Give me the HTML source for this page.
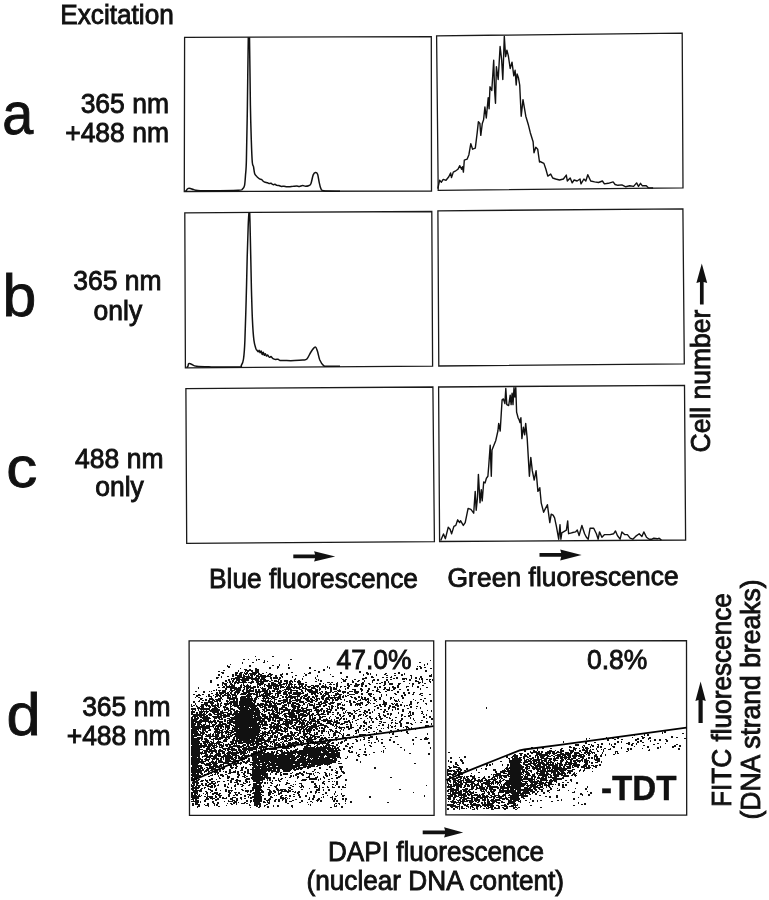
<!DOCTYPE html>
<html><head><meta charset="utf-8"><style>
html,body{margin:0;padding:0;background:#fff;width:769px;height:900px;overflow:hidden}
svg{position:absolute;left:0;top:0;display:block;will-change:transform}
text{font-family:'Liberation Sans',sans-serif;fill:#111;stroke:#111;stroke-width:0.85px}
</style></head><body>
<svg width="769" height="900" viewBox="0 0 769 900">
<rect width="769" height="900" fill="#fff"/>
<path d="M255 656.5h1m16 0h2m-31 3h2m3 0h1m9 0h2m30 0h2m138 1h1m-164 1h1m-16 1h2m9 0h2m154 0h2m-191 2h1m41 1h2m5 0h1m137 1h1m1 0h2m-92 1h1m94 0h2m-186 1h1m36 0h1m152 0h2m-188 1h2m-23 1h2m25 0h2m62 0h2m-98 1h2m1 1h1m20 0h1m11 0h1m-1 0h2m-1 0h2m-1 0h1m9 0h1m24 0h2m-54 1h1m-1 0h2m4 0h2m2 0h1m0 0h2m3 0h2m5 0h2m40 0h1m3 0h1m76 0h1m-1 0h2m7 0h2m-164 1h2m5 0h2m2 0h1m2 0h1m7 0h2m3 0h2m10 0h2m57 0h1m53 0h2m-149 1h2m1 0h2m14 0h2m12 0h2m23 0h2m89 0h2m6 0h2m14 0h2m-185 1h2m3 0h2m3 0h2m1 0h2m3 0h1m5 0h2m3 0h2m3 0h2m2 0h2m1 0h2m11 0h2m20 0h1m28 0h2m-117 1h2m17 0h2m8 0h2m1 0h1m0 0h2m3 0h2m6 0h2m-1 0h2m7 0h2m0 0h1m6 0h1m89 0h2m8 0h2m2 0h2m2 0h2m-160 1h1m0 0h2m-1 0h1m0 0h2m6 0h1m1 0h2m26 0h2m0 0h2m64 0h1m21 0h2m28 0h2m9 0h2m5 0h1m9 0h1m-183 1h2m-2 0h1m2 0h2m-1 0h2m-1 0h2m5 0h2m1 0h1m0 0h1m15 0h1m6 0h2m36 0h1m25 0h2m1 0h2m7 0h1m-1 0h2m34 0h2m11 0h2m21 0h2m1 0h2m-221 1h2m20 0h1m5 0h1m2 0h2m9 0h1m7 0h2m3 0h2m0 0h2m2 0h2m-1 0h1m1 0h2m4 0h2m4 0h2m70 0h2m-109 1h1m-1 0h2m6 0h2m1 0h2m-1 0h1m5 0h2m3 0h2m1 0h2m5 0h1m9 0h2m2 0h2m15 0h2m35 0h1m4 0h2m44 0h2m-1 0h1m11 0h2m-191 1h1m1 0h2m1 0h1m3 0h2m0 0h2m0 0h2m0 0h2m-1 0h2m0 0h2m1 0h2m10 0h1m-1 0h2m0 0h2m7 0h2m-1 0h2m4 0h2m-1 0h2m16 0h2m-1 0h2m5 0h2m-2 0h1m21 0h2m-1 0h2m1 0h2m4 0h1m3 0h1m20 0h2m17 0h2m36 0h2m-191 1h2m5 0h2m18 0h2m-2 0h1m4 0h2m10 0h2m2 0h2m4 0h2m-1 0h2m-1 0h2m1 0h2m-1 0h2m11 0h1m19 0h1m6 0h1m16 0h2m13 0h1m5 0h2m6 0h1m-1 0h2m-1 0h1m1 0h2m19 0h1m8 0h1m8 0h2m4 0h2m-209 1h2m3 0h1m7 0h1m10 0h1m16 0h1m5 0h2m6 0h2m7 0h2m5 0h2m1 0h2m1 0h2m10 0h1m22 0h2m-1 0h2m1 0h2m15 0h2m6 0h2m2 0h2m5 0h2m-142 1h1m3 0h2m31 0h2m1 0h2m1 0h2m1 0h2m1 0h2m-1 0h2m-1 0h1m10 0h1m7 0h1m1 0h1m9 0h2m-1 0h2m-1 0h1m22 0h1m46 0h2m12 0h2m23 0h2m-201 1h2m3 0h2m0 0h2m13 0h2m10 0h2m9 0h1m8 0h1m5 0h1m1 0h1m1 0h2m-1 0h2m2 0h1m11 0h1m2 0h2m-1 0h2m0 0h1m2 0h1m3 0h1m11 0h2m9 0h1m-1 0h2m2 0h2m61 0h2m-191 1h2m2 0h2m-2 0h1m1 0h1m2 0h2m0 0h2m1 0h2m1 0h2m3 0h2m1 0h2m4 0h1m1 0h2m4 0h2m1 0h1m1 0h1m10 0h1m6 0h2m1 0h2m5 0h2m0 0h2m-1 0h2m1 0h2m0 0h1m3 0h2m13 0h1m9 0h1m12 0h1m33 0h2m41 0h2m7 0h2m-197 1h2m2 0h2m0 0h1m-1 0h2m0 0h2m10 0h1m0 0h2m7 0h2m10 0h2m-1 0h2m-1 0h2m1 0h1m1 0h1m5 0h2m5 0h2m1 0h1m6 0h2m8 0h1m0 0h2m11 0h2m-1 0h1m1 0h2m1 0h2m-101 1h1m0 0h2m0 0h2m-1 0h1m4 0h1m0 0h1m4 0h1m0 0h1m7 0h2m2 0h1m1 0h2m1 0h2m8 0h2m-2 0h1m6 0h1m1 0h2m12 0h2m4 0h2m-2 0h1m2 0h2m4 0h1m18 0h1m0 0h1m16 0h2m6 0h1m16 0h2m4 0h2m1 0h1m12 0h2m-188 1h2m3 0h2m-1 0h2m1 0h1m10 0h2m1 0h2m4 0h1m5 0h2m0 0h2m-1 0h1m1 0h1m8 0h2m0 0h1m0 0h2m2 0h1m2 0h2m3 0h1m1 0h2m1 0h2m7 0h2m-1 0h2m-2 0h1m1 0h2m16 0h1m6 0h1m17 0h2m-1 0h1m33 0h2m17 0h2m-198 1h2m12 0h1m1 0h1m10 0h1m6 0h1m21 0h1m0 0h2m5 0h2m0 0h2m0 0h2m-1 0h2m0 0h1m5 0h2m-1 0h2m-2 0h1m2 0h2m-1 0h2m1 0h1m0 0h1m2 0h2m0 0h2m8 0h2m-1 0h1m3 0h2m9 0h2m0 0h2m0 0h2m3 0h2m11 0h2m-1 0h1m0 0h1m1 0h2m9 0h2m0 0h2m14 0h1m10 0h2m5 0h2m-167 1h2m2 0h2m1 0h2m8 0h2m0 0h1m3 0h2m-1 0h2m1 0h2m10 0h2m17 0h1m5 0h2m2 0h2m3 0h2m-1 0h2m0 0h2m11 0h1m5 0h2m2 0h2m1 0h1m6 0h2m1 0h2m32 0h2m11 0h2m32 0h2m-204 1h2m3 0h2m2 0h2m3 0h2m7 0h2m5 0h2m2 0h1m6 0h1m4 0h1m13 0h2m2 0h2m-1 0h1m0 0h2m9 0h2m10 0h2m-2 0h1m10 0h1m0 0h2m3 0h2m5 0h2m10 0h1m6 0h1m12 0h1m0 0h1m36 0h2m7 0h2m15 0h2m-1 0h2m-230 1h2m7 0h2m11 0h2m3 0h2m2 0h2m1 0h2m2 0h2m4 0h1m2 0h2m12 0h2m-2 0h1m6 0h2m6 0h2m6 0h2m10 0h1m2 0h2m3 0h2m6 0h2m0 0h1m6 0h2m22 0h2m0 0h2m7 0h2m0 0h2m0 0h2m18 0h1m21 0h2m15 0h2m5 0h2m8 0h2m-232 1h2m12 0h1m2 0h2m-1 0h1m5 0h2m0 0h2m-1 0h1m2 0h2m1 0h2m22 0h2m-1 0h1m1 0h2m-1 0h2m0 0h2m1 0h1m3 0h1m5 0h1m1 0h1m2 0h2m4 0h1m2 0h2m7 0h2m3 0h2m-1 0h2m10 0h1m7 0h2m5 0h1m1 0h2m-1 0h1m8 0h1m3 0h2m72 0h2m-217 1h1m1 0h2m0 0h2m3 0h2m-1 0h2m23 0h2m3 0h2m2 0h2m6 0h2m9 0h2m6 0h2m3 0h2m1 0h2m1 0h2m2 0h2m0 0h1m0 0h1m0 0h2m0 0h2m1 0h2m1 0h2m10 0h2m-1 0h1m4 0h2m14 0h1m6 0h2m3 0h2m9 0h1m8 0h2m9 0h1m-187 1h1m2 0h2m11 0h1m9 0h1m6 0h2m-1 0h2m1 0h1m22 0h2m-2 0h1m12 0h1m4 0h2m-1 0h2m0 0h2m4 0h2m1 0h2m1 0h1m14 0h2m2 0h1m15 0h1m4 0h2m3 0h2m1 0h2m0 0h1m12 0h2m11 0h2m7 0h2m4 0h2m12 0h1m-193 1h2m6 0h2m9 0h2m7 0h2m10 0h2m0 0h2m4 0h1m5 0h1m2 0h1m3 0h1m1 0h2m2 0h2m0 0h1m1 0h1m6 0h2m-1 0h1m10 0h2m24 0h2m2 0h1m0 0h2m1 0h2m-1 0h2m96 0h2m-216 1h2m0 0h2m1 0h2m-1 0h2m-1 0h2m3 0h1m8 0h2m-2 0h1m13 0h1m0 0h2m1 0h2m1 0h1m1 0h1m0 0h2m14 0h1m2 0h2m-1 0h2m18 0h2m0 0h1m0 0h1m0 0h2m6 0h2m3 0h1m2 0h2m5 0h2m17 0h1m20 0h2m2 0h2m8 0h1m36 0h1m6 0h2m-220 1h2m1 0h2m5 0h2m2 0h2m22 0h1m2 0h2m0 0h2m-1 0h2m1 0h2m-1 0h1m-1 0h2m2 0h1m6 0h2m-1 0h2m16 0h2m-1 0h2m9 0h2m-1 0h2m0 0h2m2 0h2m5 0h2m4 0h2m-1 0h2m21 0h2m11 0h2m7 0h2m10 0h1m44 0h1m-218 1h2m10 0h2m0 0h1m1 0h2m-1 0h2m2 0h2m5 0h1m1 0h1m1 0h2m-2 0h1m1 0h1m3 0h1m2 0h2m1 0h1m-1 0h2m0 0h1m-1 0h2m-1 0h2m-1 0h1m0 0h1m-1 0h2m1 0h2m2 0h2m7 0h1m0 0h2m0 0h2m0 0h2m1 0h2m12 0h1m-1 0h2m2 0h1m1 0h1m7 0h2m6 0h2m6 0h2m7 0h2m0 0h2m-1 0h1m18 0h2m9 0h1m18 0h1m19 0h2m1 0h1m-199 1h2m-2 0h1m2 0h2m0 0h2m0 0h2m0 0h2m17 0h2m0 0h2m6 0h1m0 0h2m0 0h1m0 0h2m-1 0h2m-2 0h1m1 0h1m0 0h2m-1 0h2m-1 0h1m-1 0h2m14 0h2m-1 0h2m-1 0h2m0 0h2m1 0h1m3 0h1m5 0h2m-1 0h2m0 0h1m6 0h1m1 0h1m6 0h2m-1 0h1m2 0h1m0 0h1m11 0h1m-1 0h2m4 0h2m-1 0h2m-1 0h2m2 0h2m1 0h2m6 0h1m8 0h1m3 0h2m12 0h2m32 0h1m14 0h2m-214 1h2m10 0h2m1 0h2m4 0h2m-1 0h2m-2 0h1m14 0h1m0 0h2m0 0h1m4 0h1m1 0h2m15 0h2m-1 0h2m1 0h2m12 0h2m7 0h2m-1 0h2m4 0h2m3 0h2m11 0h2m-1 0h2m4 0h2m-1 0h2m-1 0h2m8 0h1m29 0h1m2 0h2m16 0h2m1 0h1m22 0h1m7 0h2m-225 1h2m-1 0h2m-1 0h2m12 0h1m7 0h2m-1 0h2m7 0h2m3 0h2m-1 0h2m-1 0h1m0 0h1m-1 0h2m0 0h2m-2 0h1m0 0h2m0 0h1m0 0h1m-1 0h2m0 0h2m3 0h2m0 0h2m0 0h2m1 0h2m4 0h2m13 0h2m1 0h1m14 0h2m11 0h2m2 0h2m8 0h1m9 0h1m25 0h2m14 0h2m1 0h2m5 0h2m-201 1h2m7 0h2m1 0h2m1 0h2m1 0h2m0 0h1m1 0h2m4 0h1m10 0h2m4 0h2m-1 0h1m0 0h2m-1 0h2m-1 0h2m-1 0h2m-2 0h1m2 0h1m0 0h2m0 0h2m-1 0h2m0 0h2m4 0h2m6 0h2m2 0h1m2 0h1m-1 0h2m0 0h2m7 0h2m7 0h2m-1 0h2m3 0h2m1 0h1m16 0h1m0 0h1m3 0h2m11 0h2m4 0h2m-1 0h1m12 0h1m7 0h2m9 0h2m28 0h2m-1 0h1m-217 1h2m3 0h2m2 0h1m2 0h1m2 0h1m5 0h2m16 0h1m0 0h1m8 0h2m-1 0h2m5 0h2m-1 0h1m0 0h2m0 0h2m-1 0h1m0 0h2m-1 0h2m5 0h2m4 0h2m0 0h2m1 0h2m7 0h2m9 0h2m-1 0h2m0 0h2m9 0h1m8 0h2m0 0h2m8 0h2m2 0h2m1 0h1m1 0h1m36 0h2m4 0h2m28 0h2m4 0h2m-217 1h1m0 0h2m5 0h2m7 0h2m6 0h2m11 0h2m-1 0h2m-1 0h2m0 0h2m-1 0h1m-1 0h2m-1 0h1m-1 0h2m0 0h2m2 0h1m1 0h2m-2 0h1m0 0h2m4 0h2m-2 0h1m1 0h1m5 0h2m-1 0h2m1 0h1m0 0h1m-1 0h2m0 0h2m-1 0h2m15 0h2m-1 0h2m2 0h2m6 0h2m6 0h1m3 0h1m41 0h2m48 0h2m-218 1h2m-2 0h1m5 0h1m2 0h2m-1 0h2m-1 0h2m0 0h1m0 0h2m17 0h1m-1 0h2m9 0h2m-1 0h2m0 0h1m1 0h2m-1 0h2m-2 0h1m1 0h2m-1 0h2m-1 0h2m2 0h2m0 0h1m0 0h2m0 0h1m21 0h2m-1 0h2m5 0h1m5 0h2m6 0h2m-1 0h2m0 0h2m-1 0h2m14 0h2m3 0h1m10 0h2m2 0h2m1 0h1m62 0h2m7 0h1m-226 1h1m1 0h2m-2 0h1m4 0h1m1 0h2m1 0h2m-1 0h2m22 0h1m1 0h2m7 0h2m-1 0h2m-1 0h1m0 0h2m-1 0h2m0 0h1m0 0h1m2 0h2m-1 0h2m-1 0h2m-1 0h1m0 0h2m-1 0h1m0 0h2m-1 0h1m5 0h2m0 0h1m11 0h1m-1 0h2m2 0h2m7 0h2m1 0h2m16 0h2m5 0h2m2 0h2m5 0h2m28 0h2m-1 0h1m20 0h2m15 0h2m3 0h2m-201 1h1m12 0h2m0 0h1m3 0h1m5 0h2m-1 0h2m3 0h1m6 0h2m-1 0h1m0 0h2m-1 0h2m0 0h2m0 0h2m-1 0h2m-1 0h1m-1 0h2m-1 0h2m-1 0h1m0 0h1m3 0h1m0 0h1m-1 0h2m7 0h1m1 0h2m0 0h2m2 0h2m9 0h2m0 0h2m1 0h2m2 0h2m-2 0h1m2 0h2m0 0h2m-1 0h2m1 0h2m0 0h2m6 0h2m-1 0h1m30 0h1m6 0h2m1 0h2m69 0h1m-225 1h2m-1 0h2m-1 0h2m0 0h2m2 0h2m-1 0h2m0 0h2m-1 0h1m12 0h1m9 0h2m0 0h2m0 0h2m0 0h2m1 0h2m0 0h1m2 0h1m3 0h2m-2 0h1m1 0h2m2 0h1m1 0h2m0 0h1m5 0h2m-1 0h2m1 0h2m5 0h2m6 0h2m8 0h1m-1 0h2m3 0h1m3 0h2m5 0h2m35 0h2m3 0h2m25 0h2m33 0h2m-232 1h2m6 0h2m5 0h2m-1 0h1m4 0h2m0 0h2m1 0h2m2 0h2m-1 0h2m-1 0h2m-1 0h1m0 0h2m-1 0h2m11 0h2m2 0h2m0 0h1m0 0h2m-2 0h1m1 0h1m1 0h1m1 0h2m-1 0h2m-1 0h2m0 0h1m1 0h2m-1 0h2m-2 0h1m15 0h2m0 0h2m14 0h1m2 0h1m6 0h2m3 0h1m14 0h2m4 0h1m2 0h2m13 0h2m0 0h1m13 0h2m-174 1h1m7 0h1m3 0h1m2 0h1m11 0h2m0 0h2m-1 0h2m-1 0h1m-1 0h2m5 0h2m-1 0h2m1 0h2m-1 0h2m2 0h2m-1 0h2m-1 0h2m0 0h2m0 0h2m-1 0h1m-1 0h2m-1 0h1m-1 0h2m-1 0h2m0 0h2m-1 0h2m-1 0h2m1 0h2m-1 0h2m0 0h2m10 0h1m9 0h2m-2 0h1m0 0h2m4 0h2m9 0h2m7 0h2m4 0h2m3 0h2m24 0h2m10 0h2m7 0h1m13 0h2m28 0h1m12 0h2m-231 1h2m0 0h1m4 0h2m0 0h2m-1 0h2m0 0h2m2 0h2m-1 0h2m3 0h2m-1 0h2m1 0h2m-1 0h2m8 0h1m0 0h1m2 0h2m2 0h2m-1 0h2m-1 0h2m2 0h2m-1 0h2m0 0h2m0 0h2m1 0h1m-1 0h2m-1 0h2m-1 0h2m-1 0h1m-1 0h2m7 0h2m4 0h2m1 0h2m9 0h2m5 0h2m6 0h2m-1 0h2m3 0h2m6 0h2m2 0h1m0 0h2m-1 0h2m-1 0h2m3 0h2m6 0h2m27 0h1m61 0h1m-230 1h2m2 0h2m-1 0h1m17 0h2m2 0h2m-1 0h2m12 0h2m-1 0h2m-1 0h2m-1 0h2m-1 0h2m-1 0h2m0 0h2m-1 0h2m-1 0h2m-1 0h1m-1 0h2m1 0h2m-1 0h2m-1 0h2m2 0h1m-1 0h2m-1 0h1m-1 0h2m-1 0h2m4 0h1m5 0h1m6 0h1m0 0h1m4 0h1m2 0h2m3 0h1m0 0h2m2 0h2m-1 0h1m1 0h2m-1 0h2m-1 0h1m2 0h2m1 0h2m-1 0h1m2 0h2m2 0h2m2 0h1m20 0h2m2 0h2m8 0h2m11 0h2m10 0h2m30 0h2m-220 1h2m0 0h2m-1 0h2m-1 0h2m1 0h2m2 0h2m-1 0h2m-1 0h2m5 0h2m-1 0h1m0 0h2m11 0h2m13 0h2m-1 0h2m-1 0h2m0 0h2m-2 0h1m0 0h1m0 0h2m-2 0h1m4 0h2m-1 0h1m-1 0h2m-1 0h1m2 0h1m7 0h2m2 0h2m1 0h2m-1 0h2m11 0h2m-1 0h1m14 0h2m1 0h1m2 0h2m11 0h2m-1 0h1m0 0h2m4 0h1m4 0h1m4 0h1m1 0h2m21 0h2m37 0h2m-215 1h2m-1 0h1m2 0h1m1 0h1m32 0h2m-1 0h1m0 0h2m0 0h1m2 0h2m-2 0h1m2 0h2m-1 0h1m2 0h1m0 0h2m-2 0h1m4 0h2m-1 0h2m2 0h2m-2 0h1m0 0h2m0 0h1m-1 0h2m-1 0h2m-1 0h2m8 0h2m-1 0h2m1 0h1m1 0h2m42 0h2m19 0h1m44 0h2m1 0h1m5 0h2m-203 1h2m0 0h2m-2 0h1m6 0h2m-2 0h1m2 0h2m1 0h2m3 0h2m2 0h2m7 0h2m-1 0h2m2 0h2m1 0h2m-1 0h2m0 0h2m-1 0h2m-2 0h1m0 0h1m-1 0h2m-1 0h1m2 0h2m0 0h2m-2 0h1m0 0h2m-1 0h1m0 0h2m-1 0h1m2 0h1m-1 0h2m0 0h2m2 0h2m-1 0h2m-1 0h1m0 0h2m0 0h2m12 0h1m-1 0h2m1 0h2m-1 0h2m11 0h2m-1 0h1m0 0h1m2 0h1m3 0h2m6 0h2m26 0h2m18 0h2m5 0h1m2 0h2m-1 0h2m2 0h2m5 0h1m6 0h2m35 0h1m-232 1h1m-1 0h2m-1 0h2m2 0h2m5 0h2m10 0h2m0 0h2m1 0h2m3 0h2m1 0h1m0 0h1m0 0h2m3 0h1m-1 0h2m-1 0h1m1 0h1m0 0h1m0 0h2m0 0h2m-1 0h2m1 0h2m-1 0h2m-1 0h2m0 0h2m-1 0h2m-1 0h1m-1 0h2m-1 0h2m-1 0h2m-2 0h1m0 0h2m2 0h2m15 0h2m-1 0h2m1 0h2m0 0h1m-1 0h2m-1 0h2m0 0h1m10 0h2m8 0h2m0 0h2m-2 0h1m5 0h2m3 0h1m7 0h1m20 0h1m4 0h2m17 0h2m53 0h2m-240 1h1m-1 0h2m-1 0h1m0 0h1m4 0h1m1 0h1m1 0h1m3 0h1m4 0h1m1 0h1m1 0h1m-1 0h2m8 0h2m-1 0h2m-1 0h2m0 0h2m3 0h2m2 0h2m-1 0h2m0 0h1m-1 0h2m0 0h2m-2 0h1m2 0h2m-1 0h1m1 0h2m-1 0h1m0 0h1m-1 0h2m0 0h1m0 0h2m0 0h2m-1 0h2m11 0h2m5 0h2m-1 0h2m4 0h1m2 0h2m0 0h2m3 0h2m0 0h2m1 0h2m-1 0h2m1 0h2m5 0h2m7 0h2m3 0h1m28 0h2m34 0h2m2 0h1m4 0h2m12 0h1m6 0h2m-230 1h2m8 0h1m0 0h2m1 0h2m2 0h1m0 0h2m-2 0h1m5 0h2m10 0h2m2 0h2m1 0h2m-1 0h2m-1 0h1m0 0h2m0 0h2m1 0h1m-1 0h2m-1 0h2m-1 0h1m1 0h2m-1 0h2m-1 0h1m0 0h2m-1 0h1m0 0h2m-1 0h2m4 0h1m3 0h2m12 0h1m3 0h2m2 0h2m8 0h2m-1 0h1m0 0h2m4 0h1m4 0h1m3 0h2m0 0h2m0 0h2m3 0h2m-1 0h2m5 0h2m3 0h1m35 0h2m5 0h2m-186 1h2m2 0h1m10 0h2m-1 0h2m15 0h2m1 0h2m-1 0h2m2 0h2m-1 0h2m-1 0h1m1 0h2m-1 0h1m0 0h1m-1 0h2m-1 0h1m-1 0h2m-1 0h2m1 0h2m-1 0h2m-1 0h2m0 0h2m-1 0h1m0 0h1m-1 0h2m0 0h2m3 0h1m10 0h1m0 0h2m20 0h2m4 0h2m5 0h2m2 0h1m6 0h1m14 0h2m-1 0h2m13 0h2m32 0h2m0 0h1m5 0h2m22 0h1m4 0h2m-231 1h2m-1 0h1m-1 0h2m-1 0h1m0 0h2m-1 0h1m4 0h1m4 0h1m5 0h1m3 0h2m2 0h2m3 0h1m2 0h1m0 0h2m-1 0h2m3 0h1m0 0h2m1 0h2m0 0h1m-1 0h2m-1 0h2m0 0h2m0 0h2m2 0h2m-1 0h2m-1 0h2m-1 0h2m-1 0h1m1 0h2m-1 0h2m0 0h2m5 0h2m4 0h2m-1 0h2m14 0h2m0 0h2m7 0h2m-1 0h1m1 0h1m12 0h1m4 0h2m4 0h2m8 0h2m3 0h2m0 0h2m5 0h1m5 0h1m22 0h2m10 0h1m4 0h2m12 0h2m-221 1h1m1 0h2m-1 0h2m4 0h2m2 0h2m-1 0h1m8 0h2m2 0h1m1 0h2m-1 0h2m1 0h2m3 0h2m-1 0h2m3 0h1m4 0h1m3 0h1m2 0h2m-1 0h2m1 0h1m1 0h1m0 0h2m1 0h2m-1 0h2m1 0h2m0 0h1m1 0h2m2 0h2m6 0h2m-1 0h1m1 0h2m3 0h2m-1 0h1m11 0h2m2 0h2m-1 0h2m2 0h2m1 0h1m2 0h1m26 0h2m-1 0h2m3 0h2m18 0h1m21 0h1m22 0h2m-222 1h2m4 0h2m-1 0h1m2 0h2m5 0h2m2 0h1m3 0h2m-1 0h2m0 0h1m2 0h1m3 0h2m0 0h2m-1 0h1m1 0h2m4 0h2m-2 0h1m0 0h2m0 0h1m0 0h2m-1 0h1m0 0h2m-1 0h1m0 0h2m5 0h2m-2 0h1m1 0h2m-1 0h1m0 0h1m0 0h2m3 0h2m15 0h2m4 0h2m5 0h2m-1 0h2m0 0h1m8 0h1m0 0h2m4 0h1m6 0h2m3 0h2m1 0h1m30 0h1m12 0h2m6 0h2m10 0h1m4 0h1m31 0h2m-238 1h2m-1 0h2m0 0h2m-1 0h2m-1 0h1m2 0h2m0 0h2m-1 0h2m-1 0h1m1 0h2m2 0h2m-1 0h2m3 0h1m5 0h2m11 0h2m0 0h2m1 0h2m-1 0h2m0 0h1m1 0h2m-1 0h2m0 0h2m-2 0h1m1 0h2m-2 0h1m0 0h1m-1 0h2m1 0h1m-1 0h2m0 0h2m-2 0h1m0 0h2m-1 0h1m-1 0h2m10 0h2m0 0h1m0 0h1m13 0h2m3 0h2m0 0h1m4 0h2m-1 0h2m-1 0h1m3 0h2m1 0h2m4 0h2m0 0h2m0 0h2m7 0h2m6 0h1m1 0h2m9 0h2m19 0h2m24 0h2m9 0h2m0 0h1m-217 1h2m0 0h2m-1 0h1m3 0h2m0 0h2m1 0h2m15 0h2m5 0h1m4 0h1m5 0h2m-1 0h1m0 0h1m0 0h2m-2 0h1m0 0h1m1 0h2m-1 0h2m-1 0h1m0 0h2m-2 0h1m4 0h2m-1 0h1m-1 0h2m-1 0h2m-1 0h2m0 0h2m-2 0h1m1 0h2m3 0h2m15 0h2m1 0h1m5 0h1m2 0h2m5 0h2m-1 0h2m-1 0h1m3 0h2m4 0h2m10 0h2m1 0h2m7 0h1m1 0h2m1 0h2m-1 0h2m3 0h2m3 0h2m15 0h1m6 0h1m10 0h1m15 0h1m3 0h2m10 0h2m1 0h2m-219 1h1m2 0h2m6 0h2m3 0h1m10 0h2m1 0h2m2 0h2m-1 0h2m-2 0h1m1 0h1m1 0h2m-1 0h1m-1 0h2m-1 0h1m-1 0h2m-1 0h2m-1 0h2m-1 0h1m-1 0h2m-1 0h2m-1 0h1m-1 0h2m-1 0h2m-1 0h1m-1 0h2m-1 0h1m0 0h1m2 0h2m1 0h2m1 0h2m-1 0h2m-1 0h2m3 0h1m5 0h2m-1 0h1m4 0h1m2 0h2m2 0h2m2 0h2m0 0h2m3 0h1m0 0h2m4 0h1m1 0h2m3 0h2m-1 0h2m17 0h2m26 0h1m2 0h1m3 0h2m9 0h1m1 0h1m11 0h1m12 0h2m-215 1h2m0 0h2m4 0h2m4 0h2m3 0h2m1 0h2m3 0h2m4 0h1m3 0h2m-1 0h1m1 0h2m2 0h1m0 0h1m0 0h2m-1 0h1m-1 0h2m-1 0h1m0 0h2m-2 0h1m0 0h1m0 0h2m-2 0h1m2 0h2m0 0h2m0 0h2m-2 0h1m0 0h2m-1 0h2m-2 0h1m0 0h2m0 0h2m4 0h2m12 0h2m-1 0h2m18 0h1m0 0h2m4 0h2m2 0h2m4 0h1m-1 0h2m11 0h2m34 0h2m1 0h1m8 0h1m19 0h2m16 0h1m-221 1h2m11 0h2m6 0h2m1 0h2m8 0h2m0 0h2m1 0h2m2 0h2m-1 0h2m-1 0h1m1 0h2m-1 0h1m0 0h2m0 0h2m-1 0h2m-1 0h1m0 0h1m2 0h1m0 0h2m0 0h2m-1 0h1m0 0h1m0 0h2m-1 0h2m9 0h2m0 0h1m3 0h2m19 0h2m-1 0h2m3 0h2m2 0h1m3 0h1m6 0h2m3 0h2m7 0h1m3 0h1m26 0h2m1 0h1m23 0h2m10 0h1m1 0h1m-212 1h2m-1 0h1m1 0h2m1 0h1m0 0h1m1 0h1m3 0h2m8 0h2m0 0h2m1 0h2m1 0h1m0 0h2m0 0h2m4 0h2m5 0h2m-1 0h2m-1 0h2m0 0h1m-1 0h2m0 0h1m0 0h2m1 0h1m-1 0h2m0 0h2m-2 0h1m1 0h2m0 0h2m4 0h1m1 0h2m5 0h2m10 0h2m-1 0h1m-1 0h2m0 0h2m11 0h2m1 0h2m2 0h2m-1 0h2m17 0h1m1 0h1m1 0h1m1 0h2m39 0h2m5 0h2m-191 1h2m-1 0h2m0 0h2m4 0h1m1 0h2m2 0h2m9 0h2m-1 0h2m0 0h1m0 0h2m-1 0h2m3 0h2m0 0h2m0 0h1m4 0h2m-1 0h2m-1 0h2m-1 0h2m-2 0h1m4 0h2m-1 0h2m1 0h2m-1 0h1m0 0h1m1 0h2m-1 0h2m1 0h1m-1 0h2m-1 0h1m-1 0h2m6 0h2m-1 0h2m3 0h2m-1 0h1m-1 0h2m-1 0h2m20 0h2m0 0h1m18 0h2m20 0h2m28 0h2m-179 1h2m1 0h2m-1 0h2m-1 0h1m-1 0h2m2 0h2m11 0h1m3 0h1m3 0h1m6 0h1m7 0h2m-1 0h2m-1 0h2m2 0h2m1 0h2m1 0h1m-1 0h2m-1 0h1m7 0h2m-2 0h1m2 0h2m-1 0h1m5 0h2m1 0h1m3 0h2m2 0h2m1 0h1m8 0h2m2 0h2m7 0h1m-1 0h2m1 0h2m-1 0h2m-1 0h2m12 0h1m16 0h2m14 0h2m21 0h2m27 0h2m273 0h2m-490 1h2m-1 0h2m-1 0h2m-1 0h1m1 0h1m2 0h2m1 0h1m-1 0h2m1 0h2m8 0h1m8 0h1m0 0h1m0 0h2m1 0h1m0 0h2m0 0h2m1 0h2m0 0h1m0 0h1m0 0h1m0 0h2m-1 0h1m1 0h2m-1 0h2m-1 0h2m-1 0h2m-1 0h2m-1 0h1m-1 0h2m-1 0h2m0 0h2m0 0h1m1 0h2m2 0h2m0 0h1m1 0h2m35 0h2m4 0h2m3 0h2m19 0h1m5 0h1m17 0h2m0 0h2m-1 0h1m2 0h1m4 0h1m-180 1h2m-1 0h1m0 0h1m-1 0h2m0 0h2m-1 0h2m-1 0h2m0 0h2m5 0h2m0 0h2m-2 0h1m14 0h2m1 0h1m1 0h1m2 0h2m4 0h2m5 0h1m0 0h1m0 0h1m1 0h2m0 0h2m-1 0h1m0 0h2m-1 0h2m-1 0h2m-1 0h1m2 0h1m1 0h2m5 0h2m1 0h2m2 0h2m4 0h2m2 0h1m-1 0h2m0 0h2m1 0h2m29 0h2m1 0h1m9 0h2m-1 0h2m10 0h2m5 0h1m280 0h1m-444 1h1m2 0h2m5 0h2m2 0h2m0 0h2m1 0h2m2 0h2m6 0h2m2 0h2m6 0h2m1 0h2m-1 0h2m-1 0h2m-1 0h2m-1 0h2m0 0h1m0 0h2m0 0h1m0 0h2m0 0h2m-1 0h1m-1 0h2m0 0h2m-2 0h1m0 0h2m-2 0h1m0 0h2m-1 0h1m4 0h2m2 0h2m10 0h2m-1 0h1m4 0h2m1 0h1m3 0h2m0 0h1m1 0h1m1 0h2m3 0h2m4 0h2m8 0h2m0 0h1m14 0h1m61 0h1m0 0h2m243 0h2m-452 1h2m-2 0h1m0 0h2m29 0h2m2 0h2m12 0h2m-1 0h2m-2 0h1m1 0h1m0 0h2m-1 0h1m-1 0h2m1 0h2m0 0h2m-1 0h2m0 0h1m2 0h1m1 0h1m10 0h2m-1 0h2m-2 0h1m9 0h2m1 0h2m-1 0h2m4 0h2m13 0h2m3 0h2m2 0h1m1 0h1m3 0h2m5 0h2m1 0h2m3 0h2m7 0h1m10 0h2m5 0h2m25 0h2m23 0h2m215 0h1m10 0h2m31 0h2m-487 1h2m0 0h2m-1 0h1m0 0h2m-1 0h2m0 0h2m2 0h1m10 0h2m14 0h1m9 0h2m-1 0h2m-1 0h2m-1 0h2m-2 0h1m0 0h1m-1 0h2m-1 0h2m-1 0h2m-1 0h2m-1 0h2m-1 0h1m-1 0h2m0 0h2m-1 0h2m0 0h2m-1 0h1m3 0h1m0 0h2m17 0h2m2 0h1m4 0h2m2 0h1m2 0h2m0 0h2m17 0h2m3 0h2m4 0h1m9 0h1m8 0h1m18 0h1m63 0h1m160 0h1m17 0h2m75 0h2m-495 1h2m-1 0h2m-1 0h2m-1 0h2m-1 0h1m1 0h2m0 0h1m2 0h1m3 0h2m3 0h2m-1 0h2m10 0h2m1 0h1m8 0h2m4 0h2m-1 0h1m0 0h2m-1 0h2m1 0h1m-1 0h2m9 0h1m7 0h2m4 0h2m-1 0h1m5 0h2m0 0h2m2 0h1m8 0h2m-1 0h2m6 0h1m0 0h2m5 0h2m0 0h2m4 0h2m-1 0h1m4 0h2m1 0h1m25 0h2m6 0h2m16 0h2m37 0h2m4 0h2m174 0h2m10 0h2m5 0h2m42 0h2m-475 1h1m-1 0h2m0 0h1m-1 0h2m-1 0h2m0 0h2m6 0h2m16 0h1m0 0h1m8 0h2m1 0h1m0 0h2m-1 0h2m0 0h2m-1 0h1m0 0h1m1 0h2m1 0h1m0 0h2m-1 0h2m-1 0h2m-2 0h1m1 0h1m0 0h2m2 0h1m1 0h2m-1 0h2m5 0h1m0 0h2m3 0h2m0 0h1m-1 0h2m1 0h2m6 0h1m1 0h2m8 0h2m2 0h2m16 0h2m14 0h1m31 0h2m-1 0h1m42 0h2m-223 1h1m2 0h2m-1 0h1m3 0h1m2 0h2m-1 0h2m-1 0h2m4 0h2m1 0h1m9 0h2m0 0h2m5 0h2m-1 0h1m1 0h1m1 0h1m0 0h2m-1 0h1m-1 0h2m0 0h1m1 0h1m0 0h2m3 0h2m0 0h2m-2 0h1m2 0h2m0 0h2m6 0h2m6 0h2m-1 0h1m8 0h1m3 0h2m15 0h1m3 0h2m1 0h2m17 0h2m-139 1h2m2 0h1m-1 0h2m6 0h2m-1 0h2m-1 0h2m-1 0h2m0 0h1m6 0h2m-1 0h2m0 0h1m1 0h2m8 0h1m3 0h1m3 0h2m-1 0h2m-2 0h1m0 0h1m0 0h2m-1 0h2m0 0h2m-1 0h2m2 0h2m3 0h2m-1 0h1m1 0h1m3 0h2m-1 0h1m-1 0h2m0 0h1m7 0h2m1 0h2m-1 0h1m2 0h2m11 0h2m1 0h2m3 0h2m0 0h1m4 0h1m2 0h2m2 0h2m6 0h1m8 0h2m34 0h2m4 0h2m200 0h2m16 0h2m46 0h2m-449 1h2m-1 0h1m0 0h1m0 0h2m4 0h1m8 0h2m-1 0h2m0 0h2m0 0h2m11 0h1m7 0h1m1 0h2m3 0h2m1 0h2m4 0h2m5 0h1m1 0h2m9 0h2m5 0h2m2 0h1m7 0h2m0 0h2m2 0h2m2 0h2m2 0h2m2 0h2m1 0h1m4 0h2m-1 0h2m1 0h2m5 0h2m-1 0h2m18 0h2m272 0h2m4 0h2m23 0h2m6 0h1m-475 1h2m-1 0h2m-2 0h1m2 0h1m0 0h2m-1 0h2m5 0h2m8 0h1m1 0h1m1 0h2m0 0h2m5 0h2m1 0h2m-1 0h2m11 0h2m1 0h2m-1 0h1m3 0h2m-1 0h2m1 0h2m6 0h2m8 0h2m1 0h1m5 0h2m3 0h2m-1 0h2m1 0h2m8 0h2m4 0h1m27 0h1m0 0h1m59 0h2m189 0h2m7 0h2m2 0h1m26 0h2m23 0h2m21 0h2m-484 1h1m-1 0h2m2 0h2m3 0h2m-1 0h1m9 0h2m-1 0h2m2 0h2m0 0h2m-1 0h1m7 0h1m7 0h2m2 0h1m1 0h2m4 0h2m6 0h1m2 0h2m4 0h2m1 0h1m3 0h2m0 0h2m0 0h2m11 0h2m0 0h2m11 0h1m0 0h2m-1 0h2m-1 0h2m5 0h2m9 0h2m1 0h2m4 0h2m-1 0h1m31 0h2m212 0h2m58 0h2m-454 1h2m-1 0h1m1 0h2m1 0h1m-1 0h2m4 0h2m0 0h2m6 0h1m2 0h2m3 0h1m4 0h2m3 0h2m0 0h1m1 0h2m1 0h2m0 0h2m0 0h2m2 0h2m0 0h2m3 0h2m-1 0h1m1 0h2m1 0h2m0 0h1m3 0h2m-1 0h1m2 0h2m0 0h2m1 0h2m2 0h1m0 0h2m-1 0h2m-1 0h2m2 0h2m-1 0h2m0 0h2m3 0h2m-1 0h2m8 0h2m8 0h2m8 0h2m2 0h2m3 0h2m4 0h1m7 0h1m3 0h2m17 0h2m11 0h2m197 0h1m1 0h1m12 0h1m14 0h1m21 0h1m-444 1h2m0 0h2m-2 0h1m0 0h2m-2 0h1m2 0h2m0 0h1m11 0h1m1 0h2m0 0h2m3 0h2m7 0h2m7 0h2m0 0h2m3 0h1m4 0h2m1 0h2m10 0h2m9 0h2m1 0h2m4 0h2m0 0h2m15 0h2m3 0h2m0 0h2m6 0h2m1 0h2m-1 0h2m0 0h2m0 0h2m0 0h2m21 0h1m47 0h2m169 0h1m1 0h2m7 0h2m2 0h2m-396 1h1m1 0h2m3 0h1m6 0h1m1 0h1m2 0h2m-1 0h2m8 0h2m2 0h2m0 0h2m15 0h2m4 0h2m0 0h1m4 0h2m-1 0h1m-1 0h2m5 0h2m1 0h1m1 0h2m1 0h1m9 0h2m-1 0h1m0 0h1m-1 0h2m-1 0h2m-1 0h2m21 0h2m1 0h1m3 0h2m0 0h1m0 0h1m0 0h1m0 0h2m-1 0h2m0 0h2m-1 0h1m-1 0h2m-1 0h2m0 0h1m0 0h2m-1 0h2m0 0h1m-1 0h2m49 0h1m156 0h2m6 0h2m9 0h2m12 0h2m2 0h1m7 0h2m15 0h2m21 0h2m13 0h1m-451 1h1m-1 0h2m-1 0h2m-1 0h1m5 0h1m0 0h2m3 0h2m-1 0h2m1 0h2m2 0h2m3 0h2m2 0h2m4 0h2m0 0h2m2 0h1m13 0h2m1 0h2m0 0h2m13 0h2m-1 0h2m1 0h2m0 0h1m5 0h1m25 0h1m9 0h1m0 0h1m1 0h2m0 0h1m1 0h1m2 0h1m1 0h2m-1 0h2m-2 0h1m0 0h2m-1 0h2m1 0h1m0 0h1m22 0h2m199 0h2m20 0h2m0 0h1m7 0h2m7 0h1m1 0h1m4 0h2m17 0h2m-436 1h2m-1 0h2m-1 0h2m2 0h1m3 0h2m0 0h1m8 0h2m0 0h1m1 0h1m0 0h2m0 0h2m2 0h1m1 0h1m0 0h1m2 0h2m-1 0h2m0 0h2m7 0h2m-1 0h2m2 0h1m0 0h2m7 0h1m2 0h2m1 0h1m12 0h2m0 0h2m5 0h2m2 0h1m4 0h2m2 0h1m1 0h1m0 0h2m-2 0h1m1 0h2m0 0h2m5 0h2m-1 0h1m0 0h2m0 0h2m0 0h1m2 0h2m1 0h2m5 0h1m0 0h1m1 0h2m2 0h2m214 0h1m13 0h1m9 0h2m1 0h2m0 0h2m62 0h2m-457 1h2m1 0h2m9 0h2m1 0h2m1 0h2m-1 0h2m3 0h2m1 0h2m4 0h2m-1 0h2m1 0h1m3 0h2m4 0h2m11 0h2m4 0h2m-2 0h1m14 0h2m6 0h1m2 0h2m1 0h1m-1 0h2m5 0h1m4 0h2m5 0h2m-1 0h1m1 0h2m2 0h1m0 0h2m-1 0h2m-1 0h2m8 0h2m3 0h1m1 0h2m43 0h1m165 0h2m1 0h2m5 0h2m12 0h1m7 0h2m-1 0h1m9 0h2m5 0h2m16 0h2m9 0h2m-434 1h2m9 0h2m8 0h2m2 0h1m7 0h2m2 0h2m-1 0h2m-1 0h2m3 0h2m0 0h1m18 0h2m2 0h1m0 0h1m2 0h1m5 0h1m7 0h2m0 0h2m3 0h2m-2 0h1m1 0h2m1 0h2m0 0h1m0 0h1m2 0h2m-1 0h1m1 0h2m-1 0h2m-1 0h2m0 0h2m-1 0h2m-1 0h2m1 0h2m-1 0h2m3 0h2m-1 0h2m-1 0h1m4 0h2m0 0h2m-2 0h1m4 0h2m-1 0h1m0 0h2m14 0h2m22 0h2m73 0h2m81 0h1m4 0h2m14 0h2m2 0h1m1 0h1m0 0h2m13 0h2m1 0h2m2 0h1m6 0h1m-1 0h2m1 0h2m0 0h2m-404 1h2m0 0h2m2 0h2m-1 0h1m0 0h2m2 0h2m5 0h2m4 0h1m0 0h1m1 0h2m1 0h2m-1 0h2m1 0h2m0 0h2m1 0h2m4 0h2m3 0h1m2 0h2m5 0h2m1 0h1m0 0h2m-1 0h2m2 0h1m0 0h2m-1 0h2m-1 0h1m3 0h2m-1 0h2m2 0h1m4 0h1m3 0h1m1 0h2m0 0h2m-1 0h1m0 0h2m7 0h2m-1 0h2m-1 0h2m0 0h1m0 0h2m0 0h2m0 0h1m2 0h1m0 0h1m2 0h1m1 0h2m-1 0h1m0 0h2m-1 0h2m2 0h2m0 0h2m-2 0h1m1 0h2m0 0h2m0 0h2m-1 0h2m-1 0h1m0 0h2m-1 0h2m-1 0h2m72 0h2m108 0h2m0 0h1m-1 0h2m8 0h2m8 0h1m5 0h2m0 0h1m2 0h1m2 0h2m5 0h1m0 0h1m3 0h2m-1 0h2m4 0h2m2 0h2m7 0h2m0 0h2m1 0h1m24 0h2m-428 1h2m0 0h1m0 0h2m-1 0h2m0 0h2m6 0h1m0 0h2m8 0h2m1 0h1m4 0h2m1 0h2m3 0h2m-1 0h1m6 0h1m2 0h2m7 0h1m2 0h2m-1 0h2m0 0h2m0 0h2m1 0h2m-1 0h2m-1 0h2m8 0h2m5 0h1m0 0h2m6 0h2m9 0h1m-1 0h2m-1 0h2m-1 0h1m4 0h1m-1 0h2m-1 0h2m0 0h2m-1 0h1m-1 0h2m-1 0h1m1 0h2m2 0h2m0 0h2m0 0h1m2 0h1m0 0h1m0 0h2m-2 0h1m0 0h2m1 0h2m-1 0h2m0 0h2m-1 0h2m-1 0h2m18 0h2m3 0h2m4 0h1m154 0h2m15 0h2m-1 0h2m14 0h2m-1 0h2m3 0h1m-1 0h2m0 0h2m2 0h1m3 0h2m0 0h1m2 0h2m1 0h2m2 0h1m2 0h1m6 0h1m4 0h1m11 0h2m-423 1h1m-1 0h2m0 0h2m-1 0h2m-1 0h2m-1 0h2m-1 0h1m13 0h1m3 0h1m-1 0h2m9 0h1m2 0h1m3 0h2m1 0h2m3 0h2m-1 0h2m0 0h2m0 0h2m1 0h2m1 0h2m-2 0h1m1 0h2m0 0h2m-2 0h1m1 0h2m-1 0h2m3 0h2m0 0h1m2 0h1m0 0h2m1 0h2m9 0h2m-1 0h2m-1 0h2m0 0h2m-1 0h2m5 0h2m-2 0h1m4 0h2m-1 0h2m-2 0h1m2 0h2m-1 0h2m-1 0h2m3 0h1m-1 0h2m2 0h1m1 0h2m0 0h2m-1 0h2m-1 0h2m1 0h2m-1 0h2m2 0h2m-1 0h2m0 0h2m1 0h1m0 0h1m-1 0h2m17 0h2m176 0h2m2 0h2m0 0h2m5 0h1m2 0h2m2 0h2m1 0h2m0 0h1m1 0h1m0 0h2m2 0h2m7 0h2m-1 0h2m4 0h1m-389 1h1m0 0h1m0 0h1m5 0h2m1 0h1m-1 0h2m2 0h1m2 0h2m1 0h1m2 0h1m0 0h2m0 0h2m-1 0h2m5 0h2m0 0h1m5 0h2m4 0h2m7 0h2m-1 0h2m2 0h1m-1 0h2m2 0h2m6 0h2m-2 0h1m2 0h1m1 0h2m-1 0h1m1 0h2m0 0h1m0 0h2m-1 0h1m1 0h2m0 0h2m0 0h1m0 0h2m5 0h2m0 0h2m-1 0h2m-1 0h2m-1 0h2m-1 0h2m-2 0h1m0 0h1m6 0h2m2 0h1m-1 0h2m-1 0h2m4 0h2m-1 0h1m0 0h1m3 0h2m-1 0h2m0 0h1m1 0h1m1 0h2m0 0h1m21 0h2m153 0h2m1 0h1m-1 0h2m6 0h2m16 0h2m4 0h1m0 0h2m2 0h2m4 0h2m0 0h2m-1 0h1m7 0h1m3 0h2m-1 0h2m1 0h2m-2 0h1m0 0h2m-1 0h1m0 0h2m13 0h2m-406 1h1m-1 0h2m1 0h2m1 0h2m9 0h1m20 0h1m0 0h1m2 0h1m-1 0h2m18 0h2m2 0h2m-2 0h1m0 0h2m5 0h2m-1 0h2m1 0h2m6 0h1m-1 0h2m-1 0h2m-1 0h2m0 0h1m1 0h2m-1 0h2m-1 0h2m-1 0h2m-2 0h1m0 0h2m-1 0h2m0 0h2m0 0h1m0 0h2m-1 0h1m0 0h1m4 0h2m-1 0h2m5 0h2m3 0h2m-1 0h1m-1 0h2m0 0h2m-1 0h2m2 0h2m4 0h2m1 0h2m-2 0h1m1 0h2m-1 0h2m123 0h1m51 0h2m1 0h2m-2 0h1m0 0h2m-1 0h2m3 0h1m5 0h2m6 0h1m10 0h2m8 0h2m3 0h2m-1 0h2m-1 0h2m0 0h2m-1 0h2m0 0h2m0 0h1m9 0h2m-1 0h1m0 0h1m5 0h2m-1 0h1m1 0h2m3 0h2m-406 1h2m-1 0h2m2 0h2m0 0h2m4 0h2m-2 0h1m5 0h2m16 0h1m8 0h2m2 0h2m12 0h2m-1 0h2m1 0h2m2 0h2m-1 0h2m-1 0h2m2 0h2m-1 0h2m-1 0h2m-1 0h1m1 0h1m0 0h2m3 0h2m0 0h2m-1 0h1m-1 0h2m0 0h2m13 0h2m0 0h1m0 0h2m1 0h1m0 0h2m5 0h2m-1 0h1m5 0h1m0 0h1m0 0h1m0 0h2m1 0h2m5 0h2m-1 0h1m8 0h2m161 0h2m2 0h2m0 0h1m0 0h2m0 0h1m0 0h2m9 0h2m6 0h2m3 0h2m0 0h1m2 0h2m0 0h1m3 0h2m-1 0h2m-1 0h2m-1 0h2m-1 0h2m3 0h1m1 0h2m-1 0h2m11 0h2m11 0h2m-2 0h1m4 0h2m-1 0h2m-408 1h2m-1 0h2m-1 0h1m-1 0h2m5 0h2m0 0h1m1 0h2m-1 0h1m1 0h2m0 0h1m2 0h2m-1 0h2m1 0h2m7 0h1m0 0h2m3 0h2m20 0h1m2 0h2m0 0h2m-1 0h2m1 0h2m0 0h2m-1 0h2m0 0h2m-1 0h1m3 0h2m1 0h2m2 0h1m1 0h2m1 0h2m-1 0h2m2 0h2m-1 0h2m0 0h2m0 0h1m0 0h1m1 0h1m3 0h1m0 0h2m-1 0h1m-1 0h2m-1 0h2m-1 0h2m-1 0h2m-1 0h2m1 0h1m8 0h2m-2 0h1m3 0h2m0 0h2m0 0h2m-1 0h1m0 0h2m-1 0h2m-1 0h2m1 0h2m-1 0h2m178 0h1m0 0h2m-2 0h1m7 0h1m1 0h2m2 0h2m3 0h2m0 0h1m2 0h2m19 0h2m4 0h2m-1 0h2m0 0h2m10 0h1m11 0h2m0 0h2m-1 0h2m-408 1h2m2 0h2m2 0h1m5 0h1m0 0h2m0 0h1m7 0h1m3 0h2m5 0h2m0 0h1m3 0h1m4 0h2m7 0h1m5 0h2m1 0h2m2 0h1m0 0h2m0 0h2m0 0h2m2 0h2m0 0h2m-1 0h2m-2 0h1m0 0h2m0 0h1m0 0h2m1 0h2m-1 0h2m1 0h2m-1 0h2m-1 0h2m0 0h2m0 0h2m-1 0h2m0 0h1m0 0h1m4 0h2m1 0h2m0 0h2m-1 0h2m4 0h2m-1 0h1m1 0h2m-1 0h2m-1 0h2m1 0h2m-1 0h2m0 0h2m2 0h2m0 0h1m0 0h1m0 0h2m0 0h1m0 0h2m-2 0h1m0 0h1m0 0h2m-1 0h2m173 0h2m-1 0h2m-1 0h1m1 0h2m5 0h1m2 0h2m3 0h2m1 0h2m3 0h1m3 0h2m-1 0h2m9 0h2m1 0h2m-1 0h1m2 0h2m0 0h2m2 0h1m3 0h2m4 0h1m10 0h2m6 0h2m-1 0h2m-407 1h2m2 0h2m-1 0h2m6 0h2m2 0h1m3 0h2m12 0h2m1 0h2m0 0h2m0 0h2m3 0h1m3 0h2m11 0h1m0 0h2m3 0h2m1 0h2m-2 0h1m0 0h2m-1 0h1m3 0h1m2 0h2m-2 0h1m0 0h2m1 0h2m0 0h2m-2 0h1m0 0h2m-1 0h2m0 0h2m0 0h2m0 0h2m0 0h2m-1 0h1m3 0h2m-1 0h2m1 0h2m-1 0h2m-2 0h1m0 0h2m-1 0h1m2 0h2m1 0h2m0 0h1m3 0h2m-1 0h2m5 0h1m4 0h2m-1 0h1m0 0h2m2 0h2m-1 0h2m3 0h2m160 0h2m9 0h2m0 0h2m0 0h2m-2 0h1m1 0h2m-1 0h2m-1 0h2m3 0h2m2 0h2m-1 0h1m11 0h2m11 0h1m6 0h2m3 0h2m-2 0h1m7 0h2m1 0h2m0 0h2m5 0h2m-394 1h2m0 0h1m0 0h1m11 0h2m2 0h2m4 0h1m2 0h2m22 0h2m2 0h2m0 0h2m0 0h2m-2 0h1m6 0h2m-1 0h1m2 0h2m-2 0h1m2 0h2m4 0h2m-2 0h1m0 0h2m-2 0h1m0 0h2m0 0h2m1 0h2m4 0h2m-1 0h2m2 0h2m-1 0h2m1 0h2m3 0h2m0 0h1m0 0h2m0 0h2m-2 0h1m4 0h2m-1 0h2m-1 0h2m0 0h2m0 0h2m0 0h1m-1 0h2m0 0h1m-1 0h2m-1 0h2m1 0h2m0 0h2m-1 0h2m-1 0h2m-1 0h2m1 0h2m174 0h2m0 0h1m0 0h2m-1 0h2m0 0h2m-1 0h1m0 0h1m2 0h2m-1 0h1m1 0h1m12 0h2m1 0h1m2 0h1m3 0h1m1 0h2m2 0h2m12 0h2m0 0h2m0 0h2m3 0h2m2 0h1m5 0h1m0 0h2m7 0h2m-404 1h2m-1 0h1m0 0h2m0 0h2m2 0h2m1 0h1m2 0h1m5 0h2m1 0h2m6 0h2m-1 0h2m1 0h2m1 0h2m1 0h2m-1 0h2m-1 0h2m-1 0h2m0 0h2m11 0h1m1 0h2m2 0h2m4 0h2m-1 0h2m-1 0h2m-1 0h2m-1 0h1m-1 0h2m0 0h2m1 0h1m3 0h2m4 0h1m2 0h2m1 0h2m-1 0h2m-2 0h1m1 0h2m-1 0h1m1 0h2m-1 0h1m7 0h2m-1 0h2m4 0h1m4 0h1m1 0h1m0 0h2m0 0h2m-1 0h1m-1 0h2m1 0h1m0 0h2m-1 0h2m-1 0h2m8 0h2m0 0h2m72 0h2m46 0h2m48 0h1m0 0h2m2 0h2m0 0h1m8 0h2m1 0h2m2 0h2m9 0h2m2 0h1m4 0h1m2 0h2m0 0h2m9 0h2m12 0h1m6 0h1m-402 1h2m0 0h2m-1 0h2m-1 0h1m0 0h2m-1 0h1m6 0h1m3 0h2m0 0h2m-2 0h1m9 0h2m-1 0h2m-1 0h1m5 0h2m3 0h2m0 0h2m3 0h1m8 0h2m0 0h2m1 0h2m1 0h2m0 0h2m-1 0h2m-1 0h2m0 0h2m-1 0h1m3 0h2m-1 0h2m-2 0h1m2 0h2m-1 0h1m2 0h1m0 0h2m1 0h2m0 0h2m1 0h1m-1 0h2m0 0h1m-1 0h2m0 0h2m0 0h2m2 0h2m-1 0h2m-1 0h1m3 0h2m0 0h2m0 0h2m-2 0h1m1 0h2m0 0h2m0 0h1m1 0h1m1 0h2m-2 0h1m0 0h2m0 0h2m0 0h1m0 0h2m1 0h2m-1 0h1m-1 0h2m-1 0h2m128 0h2m52 0h2m-1 0h1m-1 0h2m0 0h1m1 0h2m-1 0h2m-1 0h1m0 0h2m-2 0h1m0 0h2m6 0h2m5 0h2m1 0h2m11 0h1m1 0h2m10 0h2m1 0h2m1 0h2m1 0h2m0 0h1m8 0h2m-394 1h2m-1 0h2m0 0h2m0 0h2m0 0h1m5 0h2m0 0h2m-1 0h1m6 0h1m0 0h2m10 0h2m5 0h2m15 0h2m0 0h2m3 0h1m2 0h1m5 0h2m1 0h2m-1 0h2m2 0h1m0 0h1m-1 0h2m0 0h2m-1 0h1m-1 0h2m-1 0h2m-1 0h2m2 0h2m1 0h2m-1 0h2m0 0h1m0 0h2m1 0h2m1 0h2m0 0h2m0 0h1m-1 0h2m4 0h2m7 0h2m137 0h2m53 0h1m0 0h1m0 0h2m4 0h2m8 0h2m-1 0h1m3 0h1m1 0h2m4 0h2m5 0h1m2 0h2m6 0h2m-2 0h1m0 0h1m1 0h2m6 0h2m-1 0h2m-1 0h2m0 0h1m11 0h2m1 0h2m-1 0h2m1 0h2m-1 0h2m-405 1h1m0 0h1m0 0h2m0 0h1m0 0h2m-2 0h1m10 0h1m0 0h2m0 0h1m0 0h2m5 0h2m1 0h2m11 0h1m0 0h1m16 0h2m-2 0h1m3 0h2m-1 0h2m3 0h2m2 0h1m3 0h1m1 0h2m2 0h2m1 0h2m2 0h2m0 0h2m-1 0h2m4 0h1m0 0h2m-1 0h2m-1 0h2m5 0h2m2 0h2m2 0h2m-1 0h2m1 0h1m0 0h1m23 0h2m105 0h2m4 0h1m0 0h1m54 0h2m-1 0h2m0 0h2m-1 0h1m0 0h1m-1 0h2m-1 0h2m2 0h1m1 0h2m4 0h2m1 0h2m-1 0h2m4 0h1m0 0h1m1 0h2m0 0h2m3 0h2m2 0h2m0 0h1m4 0h1m3 0h1m-1 0h2m1 0h2m1 0h2m3 0h2m5 0h2m3 0h1m6 0h2m-404 1h2m-2 0h1m5 0h2m7 0h2m1 0h2m-1 0h2m0 0h2m1 0h1m1 0h2m-1 0h2m13 0h1m1 0h2m4 0h1m4 0h1m6 0h2m-1 0h2m3 0h2m-1 0h2m-1 0h2m0 0h2m0 0h1m2 0h1m-1 0h2m0 0h2m-2 0h1m0 0h1m3 0h1m0 0h2m0 0h2m-1 0h1m0 0h2m-1 0h2m0 0h2m-1 0h1m1 0h2m-1 0h2m-1 0h2m3 0h2m-1 0h2m-1 0h2m3 0h1m-1 0h2m-1 0h2m-1 0h2m-1 0h2m-1 0h2m3 0h2m30 0h2m107 0h2m1 0h2m2 0h2m0 0h1m46 0h1m2 0h2m0 0h2m-1 0h2m0 0h2m1 0h2m-1 0h2m-1 0h2m4 0h2m5 0h2m-1 0h2m1 0h2m2 0h2m6 0h1m3 0h1m0 0h2m-1 0h2m-1 0h2m0 0h2m-1 0h2m0 0h2m6 0h2m-1 0h2m1 0h2m3 0h2m4 0h1m-1 0h2m1 0h2m1 0h2m-393 1h1m0 0h1m4 0h1m4 0h1m0 0h2m23 0h2m18 0h2m5 0h2m1 0h2m0 0h2m-1 0h2m-1 0h1m0 0h2m0 0h2m-1 0h1m0 0h2m0 0h2m-1 0h2m1 0h2m-1 0h2m2 0h2m-2 0h1m0 0h1m1 0h1m1 0h2m-1 0h1m-1 0h2m-1 0h2m-1 0h2m-1 0h1m2 0h2m-1 0h2m-1 0h2m-1 0h2m5 0h2m27 0h1m112 0h1m9 0h2m20 0h1m23 0h2m-1 0h2m1 0h2m-1 0h2m-1 0h2m0 0h1m-1 0h2m-1 0h2m0 0h2m-1 0h2m-1 0h2m-2 0h1m8 0h1m0 0h2m2 0h2m3 0h2m5 0h1m12 0h2m2 0h1m1 0h1m0 0h2m1 0h2m0 0h2m-2 0h1m14 0h2m0 0h2m0 0h2m2 0h1m-402 1h2m-1 0h2m-2 0h1m1 0h1m0 0h2m-1 0h2m-1 0h2m-1 0h1m3 0h2m8 0h2m2 0h2m0 0h2m-1 0h2m29 0h2m1 0h1m0 0h2m0 0h2m-1 0h2m-2 0h1m0 0h2m-1 0h2m0 0h2m0 0h2m2 0h2m-1 0h1m1 0h2m2 0h2m1 0h2m-1 0h1m4 0h2m-1 0h2m-1 0h2m0 0h2m-1 0h2m5 0h1m0 0h2m-1 0h1m16 0h2m10 0h2m12 0h2m114 0h2m1 0h2m51 0h2m0 0h1m0 0h2m-1 0h1m0 0h2m0 0h2m0 0h1m1 0h2m1 0h2m9 0h2m0 0h2m1 0h2m-1 0h2m-1 0h1m2 0h1m3 0h1m-1 0h2m4 0h2m-1 0h1m5 0h2m7 0h2m-384 1h2m1 0h2m0 0h2m-1 0h1m3 0h2m0 0h1m3 0h2m-1 0h1m1 0h2m23 0h1m4 0h2m-1 0h2m-1 0h1m9 0h2m0 0h2m-1 0h1m-1 0h2m-1 0h2m2 0h2m-1 0h1m-1 0h2m-1 0h1m1 0h2m0 0h1m0 0h1m-1 0h2m2 0h2m4 0h2m4 0h1m1 0h1m0 0h1m0 0h2m0 0h2m23 0h1m20 0h1m113 0h1m1 0h2m1 0h1m2 0h2m5 0h2m43 0h2m-1 0h2m-2 0h1m1 0h2m-1 0h2m-1 0h1m1 0h2m-1 0h2m-1 0h2m-1 0h1m-1 0h2m1 0h2m2 0h1m1 0h2m11 0h2m4 0h2m1 0h1m-1 0h2m0 0h2m2 0h2m1 0h1m1 0h1m0 0h2m0 0h2m1 0h1m-1 0h2m0 0h2m12 0h2m-394 1h2m-1 0h2m-1 0h2m-1 0h2m2 0h2m5 0h2m1 0h2m7 0h1m5 0h1m1 0h2m26 0h2m-1 0h2m-1 0h2m-1 0h2m1 0h2m0 0h2m2 0h2m1 0h2m1 0h2m1 0h2m2 0h2m3 0h2m3 0h2m22 0h2m133 0h2m0 0h1m4 0h2m1 0h2m45 0h2m-1 0h2m3 0h2m-1 0h2m-1 0h2m-1 0h1m0 0h2m-2 0h1m1 0h2m1 0h2m6 0h1m10 0h2m0 0h2m-1 0h2m0 0h2m-1 0h2m11 0h2m1 0h1m0 0h2m8 0h2m19 0h1m-400 1h2m-1 0h2m3 0h2m-1 0h2m6 0h1m22 0h2m8 0h2m9 0h2m-1 0h2m1 0h2m1 0h1m-1 0h2m-1 0h1m-1 0h2m-1 0h2m-1 0h2m-1 0h2m-2 0h1m1 0h1m10 0h2m2 0h1m-1 0h2m10 0h1m22 0h1m1 0h2m5 0h2m9 0h1m118 0h2m22 0h2m22 0h2m-1 0h2m7 0h2m0 0h2m-1 0h2m0 0h2m2 0h2m0 0h1m3 0h2m2 0h1m20 0h2m-1 0h2m-2 0h1m0 0h1m3 0h2m3 0h2m9 0h1m-374 1h2m12 0h1m12 0h2m19 0h2m1 0h2m1 0h2m-1 0h1m2 0h2m3 0h2m18 0h2m4 0h2m15 0h2m-1 0h2m-1 0h2m8 0h1m5 0h2m9 0h2m110 0h2m-1 0h2m2 0h2m0 0h2m3 0h1m10 0h1m24 0h2m5 0h2m-1 0h1m0 0h2m5 0h2m-2 0h1m0 0h2m1 0h1m-1 0h2m-1 0h1m-1 0h2m-1 0h2m-2 0h1m1 0h2m1 0h1m5 0h1m6 0h2m0 0h1m-1 0h2m0 0h1m5 0h2m6 0h2m5 0h1m0 0h2m12 0h1m-384 1h2m0 0h2m0 0h1m3 0h1m2 0h2m1 0h2m5 0h2m9 0h2m16 0h1m7 0h2m0 0h2m-1 0h2m-1 0h1m-1 0h2m0 0h2m1 0h2m-1 0h2m-1 0h2m-1 0h2m0 0h2m-1 0h2m16 0h2m39 0h2m4 0h1m117 0h2m-1 0h2m2 0h2m2 0h1m-1 0h2m31 0h1m2 0h2m2 0h2m9 0h2m0 0h1m0 0h2m-1 0h1m-1 0h2m0 0h2m0 0h1m0 0h1m0 0h1m0 0h1m0 0h2m2 0h1m2 0h2m7 0h1m2 0h1m1 0h2m1 0h2m0 0h2m0 0h2m8 0h2m0 0h2m2 0h1m6 0h2m1 0h1m-384 1h2m0 0h1m2 0h1m-1 0h2m11 0h2m26 0h1m5 0h2m5 0h2m0 0h1m5 0h2m1 0h2m0 0h1m0 0h1m-1 0h2m42 0h1m4 0h1m10 0h2m2 0h1m5 0h2m3 0h2m105 0h2m51 0h1m0 0h2m0 0h1m1 0h2m0 0h2m3 0h1m0 0h1m0 0h2m0 0h2m-1 0h2m-2 0h1m0 0h2m-2 0h1m0 0h2m2 0h1m4 0h1m-1 0h2m-1 0h2m2 0h2m4 0h1m1 0h2m1 0h2m7 0h1m1 0h2m4 0h2m8 0h2m1 0h1m0 0h2m-2 0h1m-384 1h2m-1 0h2m-1 0h1m-1 0h2m-1 0h1m1 0h2m-1 0h2m1 0h2m5 0h2m19 0h1m12 0h2m-1 0h1m2 0h2m6 0h2m-1 0h2m2 0h1m0 0h2m-1 0h2m-1 0h1m1 0h2m-1 0h1m73 0h2m108 0h2m3 0h2m5 0h2m1 0h1m3 0h1m3 0h2m22 0h2m10 0h2m-1 0h2m0 0h2m0 0h2m-1 0h2m0 0h1m-1 0h2m1 0h2m-1 0h1m-1 0h2m-1 0h1m3 0h2m5 0h1m1 0h2m8 0h1m-1 0h2m-1 0h2m-2 0h1m8 0h1m11 0h1m8 0h1m-385 1h2m2 0h2m2 0h1m19 0h1m8 0h2m14 0h2m7 0h2m-1 0h2m-2 0h1m0 0h2m-1 0h2m0 0h2m-1 0h1m-1 0h2m-1 0h2m1 0h1m-1 0h2m-1 0h2m-1 0h1m0 0h2m5 0h2m10 0h1m3 0h2m15 0h2m7 0h2m73 0h2m64 0h2m1 0h2m17 0h2m3 0h2m7 0h1m0 0h2m5 0h1m9 0h2m-1 0h2m-1 0h1m0 0h1m-1 0h2m-1 0h2m1 0h2m-1 0h1m5 0h2m1 0h1m6 0h2m9 0h2m1 0h2m-359 1h2m0 0h2m24 0h2m25 0h2m5 0h1m0 0h2m-1 0h1m-1 0h2m-1 0h1m0 0h2m-1 0h2m-2 0h1m1 0h2m-1 0h1m-1 0h2m-1 0h2m-1 0h2m1 0h2m5 0h2m6 0h2m14 0h1m33 0h2m120 0h2m1 0h2m-1 0h1m6 0h1m2 0h2m14 0h2m-1 0h2m8 0h2m6 0h1m6 0h2m-1 0h2m0 0h1m-1 0h2m-1 0h2m0 0h2m-1 0h2m0 0h1m-1 0h2m0 0h1m0 0h1m1 0h1m1 0h2m1 0h1m0 0h1m7 0h2m2 0h2m1 0h2m9 0h2m2 0h2m-369 1h2m-1 0h2m1 0h1m2 0h1m16 0h1m15 0h2m2 0h2m9 0h2m5 0h2m-1 0h2m-1 0h1m0 0h2m-1 0h2m-1 0h1m1 0h2m0 0h1m-1 0h2m15 0h2m23 0h2m21 0h2m117 0h2m-1 0h2m8 0h2m-1 0h2m4 0h2m0 0h2m2 0h2m1 0h2m5 0h2m2 0h2m2 0h2m5 0h1m3 0h1m2 0h2m5 0h2m-1 0h2m-1 0h2m0 0h1m-1 0h2m-1 0h1m-1 0h2m0 0h2m2 0h1m0 0h1m5 0h1m1 0h2m1 0h2m1 0h1m18 0h2m2 0h1m-368 1h2m-1 0h2m2 0h2m2 0h2m0 0h1m23 0h2m6 0h2m0 0h2m16 0h2m-1 0h2m-1 0h2m0 0h2m-1 0h2m13 0h2m1 0h2m7 0h1m13 0h2m144 0h2m0 0h2m4 0h2m0 0h2m3 0h2m2 0h2m-1 0h2m-1 0h1m5 0h1m1 0h2m6 0h2m-1 0h2m6 0h2m4 0h2m1 0h2m1 0h2m0 0h2m0 0h2m-1 0h2m-1 0h1m0 0h2m-2 0h1m0 0h1m-1 0h2m0 0h1m1 0h1m-1 0h2m-1 0h2m-2 0h1m3 0h1m5 0h2m-1 0h2m6 0h2m1 0h2m1 0h1m0 0h2m0 0h2m2 0h2m13 0h2m-373 1h2m0 0h1m3 0h1m0 0h2m3 0h2m5 0h2m3 0h2m3 0h2m20 0h2m-1 0h1m8 0h2m0 0h1m-1 0h2m-1 0h2m-1 0h1m19 0h2m14 0h1m27 0h2m3 0h2m2 0h1m1 0h1m124 0h2m9 0h2m1 0h2m11 0h1m-1 0h2m-1 0h2m0 0h2m1 0h2m6 0h2m4 0h1m0 0h2m1 0h2m-2 0h1m0 0h1m1 0h1m0 0h1m-1 0h2m0 0h2m1 0h2m1 0h2m0 0h2m0 0h2m3 0h1m0 0h1m0 0h1m1 0h2m-1 0h2m0 0h1m0 0h1m0 0h2m-348 1h1m-1 0h2m1 0h1m9 0h2m-1 0h1m25 0h2m20 0h2m-1 0h2m-1 0h2m10 0h2m186 0h2m-1 0h1m1 0h1m2 0h2m-1 0h1m2 0h2m3 0h1m6 0h1m2 0h2m2 0h2m0 0h1m9 0h2m9 0h2m-1 0h1m0 0h1m0 0h2m2 0h2m-1 0h2m0 0h2m9 0h2m-1 0h2m7 0h1m0 0h2m1 0h1m0 0h1m0 0h2m13 0h2m3 0h2m-375 1h1m1 0h2m3 0h2m8 0h2m1 0h2m22 0h1m5 0h2m8 0h1m0 0h2m3 0h2m-2 0h1m10 0h2m13 0h1m1 0h2m9 0h2m146 0h2m16 0h1m7 0h1m0 0h1m3 0h1m5 0h2m2 0h1m0 0h2m0 0h2m11 0h2m3 0h2m-2 0h1m1 0h2m-1 0h2m-1 0h2m-1 0h2m-1 0h2m-1 0h1m-1 0h2m-1 0h2m-1 0h2m-1 0h2m-2 0h1m3 0h2m-1 0h2m8 0h2m1 0h2m-1 0h2m2 0h2m1 0h1m12 0h2m-367 1h2m6 0h2m2 0h2m17 0h2m9 0h1m1 0h2m1 0h2m7 0h2m3 0h2m-1 0h2m-1 0h1m2 0h1m-1 0h2m24 0h2m6 0h1m1 0h1m36 0h2m115 0h2m15 0h2m2 0h2m9 0h2m2 0h2m-1 0h2m0 0h2m1 0h1m5 0h1m3 0h1m1 0h2m5 0h2m-1 0h1m1 0h2m-1 0h2m-1 0h1m0 0h1m0 0h2m-1 0h2m-2 0h1m0 0h2m-1 0h2m10 0h2m1 0h1m3 0h2m5 0h1m5 0h2m1 0h1m-364 1h1m0 0h2m2 0h2m-1 0h1m0 0h2m1 0h2m1 0h2m0 0h2m2 0h2m1 0h2m1 0h2m23 0h2m4 0h2m3 0h2m0 0h2m0 0h2m-1 0h1m0 0h2m9 0h2m4 0h2m12 0h2m43 0h1m90 0h1m23 0h2m3 0h2m11 0h1m9 0h2m7 0h2m0 0h2m20 0h2m-1 0h2m0 0h1m-1 0h2m0 0h2m-1 0h1m0 0h2m-2 0h1m0 0h1m-1 0h2m0 0h2m3 0h2m0 0h2m-1 0h2m6 0h2m3 0h1m1 0h1m0 0h2m0 0h1m-356 1h2m4 0h1m0 0h1m7 0h2m0 0h2m3 0h2m9 0h1m15 0h2m11 0h1m0 0h2m-1 0h2m0 0h2m-1 0h1m0 0h2m12 0h1m17 0h2m5 0h1m19 0h1m130 0h1m0 0h2m0 0h1m-1 0h2m1 0h1m1 0h2m0 0h2m9 0h2m0 0h2m5 0h2m3 0h1m2 0h2m0 0h2m0 0h1m1 0h2m-1 0h1m0 0h2m2 0h1m1 0h2m-1 0h1m5 0h2m0 0h1m0 0h2m0 0h2m-1 0h2m-1 0h1m0 0h2m-1 0h1m-1 0h2m12 0h2m2 0h2m8 0h1m5 0h1m-360 1h2m-1 0h2m9 0h1m5 0h2m-1 0h1m14 0h2m27 0h2m10 0h2m18 0h1m-1 0h2m10 0h2m14 0h2m4 0h2m4 0h1m4 0h2m9 0h2m103 0h2m12 0h2m15 0h2m7 0h2m5 0h2m2 0h2m-1 0h2m-1 0h2m-1 0h2m-1 0h2m-1 0h1m0 0h1m2 0h2m3 0h2m0 0h2m-1 0h1m0 0h2m5 0h1m0 0h2m1 0h2m0 0h1m1 0h1m-1 0h2m-1 0h1m14 0h2m13 0h1m-373 1h2m1 0h2m-1 0h2m-1 0h1m0 0h1m2 0h2m5 0h1m36 0h1m9 0h2m-1 0h2m-1 0h2m-1 0h2m-1 0h2m16 0h1m31 0h1m142 0h2m11 0h2m-1 0h2m3 0h1m-1 0h2m4 0h2m0 0h2m9 0h1m6 0h1m2 0h1m0 0h2m0 0h2m1 0h2m5 0h1m-1 0h2m-1 0h1m-1 0h2m0 0h2m-2 0h1m0 0h2m-1 0h2m-1 0h2m-1 0h1m3 0h2m0 0h2m6 0h2m7 0h1m13 0h1m17 0h1m-380 1h1m12 0h2m14 0h2m14 0h2m14 0h2m-1 0h2m-1 0h2m-1 0h1m-1 0h2m-1 0h1m5 0h2m0 0h1m12 0h2m7 0h2m8 0h2m38 0h1m57 0h2m47 0h2m-1 0h2m3 0h2m-1 0h2m-2 0h1m1 0h2m3 0h2m1 0h2m2 0h2m0 0h2m2 0h2m6 0h2m0 0h2m4 0h2m6 0h2m1 0h2m7 0h1m0 0h2m-1 0h1m2 0h2m0 0h2m0 0h2m-1 0h2m-1 0h2m3 0h2m2 0h2m1 0h2m3 0h2m0 0h2m-351 1h2m-1 0h2m0 0h2m0 0h2m11 0h1m9 0h1m7 0h2m-1 0h2m1 0h1m9 0h2m3 0h1m7 0h2m-1 0h2m-1 0h1m0 0h2m0 0h1m8 0h2m7 0h2m38 0h2m130 0h2m0 0h1m2 0h2m0 0h2m10 0h1m23 0h2m8 0h2m1 0h1m2 0h1m2 0h2m-2 0h1m0 0h1m0 0h2m-2 0h1m2 0h2m-1 0h1m0 0h2m0 0h2m0 0h2m0 0h2m0 0h1m0 0h1m0 0h2m17 0h2m7 0h2m9 0h1m-373 1h2m7 0h2m48 0h1m0 0h2m-1 0h2m3 0h2m19 0h2m0 0h2m5 0h2m157 0h2m-1 0h2m6 0h2m19 0h2m1 0h1m3 0h1m3 0h2m-1 0h2m5 0h1m0 0h2m0 0h2m-1 0h2m-2 0h1m1 0h2m1 0h2m-1 0h1m0 0h2m-1 0h2m-2 0h1m0 0h2m-1 0h1m0 0h1m1 0h2m-1 0h2m5 0h2m0 0h2m1 0h1m0 0h1m1 0h1m4 0h1m48 0h1m-397 1h2m0 0h2m0 0h1m14 0h1m5 0h2m-1 0h1m12 0h1m3 0h2m-1 0h2m10 0h1m2 0h1m4 0h2m0 0h2m-1 0h1m1 0h2m-1 0h2m0 0h1m16 0h2m12 0h2m22 0h2m93 0h1m36 0h1m1 0h2m-2 0h1m0 0h2m17 0h2m1 0h2m-1 0h1m10 0h1m3 0h2m-1 0h2m4 0h2m1 0h2m-1 0h2m1 0h2m3 0h2m-1 0h2m-1 0h2m0 0h2m-1 0h2m-1 0h1m0 0h2m-2 0h1m0 0h1m0 0h2m3 0h2m-1 0h2m0 0h2m-1 0h2m19 0h1m22 0h2m-378 1h2m5 0h1m15 0h2m8 0h2m21 0h2m0 0h1m1 0h2m-1 0h2m-2 0h1m14 0h2m4 0h2m168 0h2m2 0h2m0 0h2m5 0h1m1 0h2m2 0h2m-1 0h1m2 0h2m-2 0h1m0 0h2m10 0h1m7 0h1m1 0h1m11 0h1m-1 0h2m3 0h1m-1 0h2m3 0h1m-1 0h2m1 0h2m1 0h2m2 0h2m0 0h2m-325 1h1m30 0h2m2 0h2m5 0h2m7 0h2m0 0h2m-1 0h2m-1 0h2m-1 0h1m16 0h2m13 0h2m27 0h2m126 0h2m8 0h2m1 0h2m4 0h2m-1 0h2m3 0h2m-1 0h2m3 0h2m-1 0h1m9 0h2m9 0h2m-1 0h2m3 0h1m2 0h2m-1 0h1m-1 0h2m0 0h1m0 0h2m-1 0h2m4 0h1m5 0h2m-339 1h2m0 0h2m5 0h1m13 0h1m2 0h2m0 0h2m11 0h2m21 0h2m-1 0h2m3 0h2m4 0h2m4 0h1m1 0h1m4 0h2m2 0h2m40 0h1m9 0h1m5 0h2m102 0h2m5 0h1m1 0h1m3 0h1m0 0h2m8 0h2m0 0h2m11 0h2m2 0h2m4 0h2m1 0h1m8 0h2m1 0h2m-1 0h2m1 0h1m0 0h2m-2 0h1m2 0h2m0 0h2m4 0h1m11 0h2m-347 1h2m1 0h2m-1 0h1m0 0h2m3 0h2m1 0h2m0 0h1m0 0h2m-1 0h2m15 0h1m23 0h2m1 0h2m1 0h1m1 0h1m-1 0h2m31 0h2m18 0h2m20 0h2m117 0h2m0 0h2m0 0h1m24 0h1m4 0h1m2 0h2m0 0h2m0 0h1m16 0h2m-1 0h2m0 0h2m-1 0h1m10 0h1m17 0h2m-356 1h2m2 0h1m13 0h2m21 0h2m0 0h2m18 0h2m0 0h2m-2 0h1m0 0h2m-1 0h2m-1 0h2m10 0h2m8 0h2m-1 0h2m1 0h2m34 0h1m8 0h2m-1 0h1m116 0h2m5 0h1m3 0h1m2 0h2m4 0h1m3 0h2m-1 0h2m2 0h1m0 0h1m5 0h2m3 0h2m5 0h2m0 0h2m5 0h2m1 0h2m0 0h2m1 0h2m-1 0h1m2 0h2m3 0h2m32 0h2m20 0h1m-386 1h1m12 0h2m5 0h2m9 0h2m10 0h2m6 0h1m-1 0h2m9 0h1m-1 0h2m0 0h2m0 0h2m23 0h2m1 0h1m1 0h1m157 0h2m1 0h1m13 0h2m2 0h2m-1 0h2m4 0h2m3 0h2m17 0h2m-1 0h2m8 0h2m4 0h2m5 0h2m-334 1h2m0 0h1m1 0h2m8 0h2m34 0h1m11 0h2m1 0h2m-1 0h2m0 0h2m-1 0h2m13 0h2m5 0h2m11 0h2m11 0h2m138 0h2m0 0h1m3 0h1m1 0h1m30 0h2m2 0h2m2 0h2m1 0h2m4 0h1m5 0h2m-1 0h2m-1 0h2m1 0h1m1 0h2m-323 1h2m34 0h2m16 0h2m2 0h2m-1 0h1m-1 0h2m-1 0h2m0 0h2m-1 0h2m-1 0h2m4 0h2m-1 0h1m6 0h2m16 0h2m22 0h2m16 0h1m122 0h2m1 0h1m7 0h1m5 0h2m2 0h2m3 0h2m0 0h1m1 0h2m1 0h1m2 0h2m4 0h2m9 0h2m1 0h2m0 0h2m-1 0h2m7 0h2m13 0h2m15 0h2m-368 1h2m1 0h2m0 0h2m2 0h1m23 0h1m4 0h2m0 0h2m2 0h2m13 0h2m3 0h1m1 0h2m-1 0h1m-1 0h2m0 0h2m7 0h1m4 0h2m2 0h2m9 0h1m0 0h1m-1 0h2m18 0h2m136 0h1m1 0h2m-1 0h2m1 0h2m5 0h2m1 0h2m-1 0h2m2 0h2m1 0h2m4 0h1m-1 0h2m7 0h2m0 0h1m2 0h2m0 0h2m0 0h1m4 0h2m8 0h2m0 0h1m0 0h2m3 0h1m0 0h1m30 0h2m-358 1h2m38 0h2m1 0h1m5 0h2m9 0h2m-1 0h2m0 0h2m5 0h1m33 0h2m6 0h1m4 0h1m74 0h2m64 0h2m0 0h2m0 0h2m3 0h2m-1 0h1m5 0h2m6 0h2m5 0h2m2 0h2m4 0h1m1 0h1m-1 0h2m0 0h2m1 0h2m0 0h2m3 0h2m-2 0h1m0 0h1m1 0h2m0 0h2m14 0h1m-323 1h2m4 0h2m12 0h1m2 0h2m9 0h2m-1 0h1m0 0h2m1 0h2m7 0h1m2 0h2m27 0h2m46 0h2m1 0h2m5 0h1m107 0h2m15 0h2m16 0h2m8 0h1m-1 0h2m9 0h2m1 0h2m-2 0h1m0 0h2m-1 0h2m-312 1h1m26 0h2m21 0h1m0 0h1m0 0h2m-1 0h1m8 0h2m40 0h1m30 0h1m109 0h2m2 0h1m3 0h2m8 0h2m3 0h1m4 0h2m3 0h1m1 0h2m-1 0h2m2 0h2m0 0h1m12 0h2m1 0h2m72 0h2m-391 1h2m11 0h2m19 0h1m22 0h2m3 0h1m1 0h1m-1 0h2m-1 0h1m6 0h2m199 0h2m6 0h2m5 0h1m1 0h2m1 0h2m2 0h2m5 0h2m-1 0h2m2 0h2m-1 0h2m-1 0h2m11 0h2m12 0h2m41 0h2m-367 1h1m9 0h2m114 0h2m116 0h2m2 0h2m0 0h2m10 0h2m-1 0h2m3 0h2m-1 0h2m1 0h2m2 0h2m1 0h1m-1 0h2m20 0h2m0 0h2m2 0h1m-266 1h1m7 0h2m32 0h1m37 0h2m127 0h1m12 0h2m14 0h1m0 0h1m1 0h2m1 0h2m6 0h2m2 0h2m7 0h2m1 0h2m20 0h2m-79 1h2m-2 0h1m2 0h1m16 0h2m2 0h2m6 0h2m0 0h2m4 0h2m0 0h1m11 0h1m-65 1h2m17 0h2m18 0h2m21 0h2" stroke="#111" stroke-width="1" fill="none" shape-rendering="crispEdges"/>
<path d="M256 660h1m7 1h1m-23 2h1m184 1h1m-149 1h1m8 0h1m135 0h1m-198 1h1m21 0h2m-23 1h2m47 0h2m48 0h1m-59 1h2m17 0h2m19 0h2m18 0h1m90 0h2m-167 1h2m159 0h2m-173 1h2m2 0h2m6 0h2m64 0h2m-87 1h1m6 0h1m1 0h2m2 0h1m-1 0h2m2 0h2m168 0h2m-170 1h2m59 0h2m39 0h2m-139 1h2m11 0h2m-1 0h2m2 0h2m2 0h1m1 0h2m-2 0h1m0 0h1m4 0h1m-1 0h2m1 0h2m52 0h2m29 0h2m24 0h2m30 0h2m-160 1h2m3 0h1m5 0h2m-1 0h1m0 0h2m3 0h2m9 0h2m11 0h1m3 0h2m79 0h2m1 0h1m33 0h1m-187 1h2m15 0h2m11 0h1m1 0h2m2 0h1m3 0h1m1 0h2m6 0h1m11 0h2m23 0h2m56 0h1m12 0h1m24 0h2m28 0h1m-200 1h2m5 0h2m2 0h2m3 0h1m2 0h2m-1 0h1m4 0h1m2 0h2m0 0h2m0 0h2m1 0h1m7 0h2m40 0h1m111 0h2m0 0h1m-211 1h1m16 0h2m-1 0h1m0 0h2m1 0h2m1 0h1m-1 0h2m1 0h1m1 0h2m5 0h2m1 0h2m7 0h1m21 0h1m53 0h2m-1 0h1m23 0h2m18 0h1m19 0h1m8 0h2m-206 1h2m17 0h2m1 0h1m3 0h1m3 0h2m0 0h2m0 0h2m-2 0h1m4 0h1m2 0h2m-1 0h1m2 0h1m1 0h1m5 0h2m4 0h2m1 0h2m34 0h1m49 0h2m-2 0h1m30 0h2m17 0h2m-186 1h1m1 0h2m1 0h1m0 0h2m-1 0h2m4 0h1m7 0h1m0 0h2m1 0h2m0 0h1m2 0h2m0 0h2m30 0h1m6 0h1m59 0h2m-1 0h1m38 0h2m2 0h1m12 0h1m1 0h2m-195 1h2m6 0h2m3 0h2m-1 0h2m1 0h2m-1 0h2m-1 0h2m6 0h2m3 0h1m0 0h1m1 0h2m-1 0h2m28 0h1m23 0h1m54 0h2m2 0h2m7 0h2m21 0h2m21 0h1m-208 1h2m5 0h2m4 0h2m4 0h2m11 0h2m5 0h2m0 0h2m7 0h2m1 0h1m5 0h2m4 0h2m6 0h2m20 0h2m21 0h2m0 0h1m6 0h1m11 0h1m7 0h1m42 0h2m5 0h1m6 0h1m-220 1h2m17 0h2m4 0h2m5 0h2m0 0h2m-1 0h1m6 0h2m2 0h1m0 0h1m2 0h2m0 0h1m17 0h1m-1 0h2m4 0h2m1 0h2m1 0h1m4 0h1m1 0h2m51 0h2m18 0h1m11 0h2m2 0h1m29 0h1m3 0h1m7 0h1m-209 1h2m6 0h1m3 0h2m1 0h1m5 0h1m6 0h2m5 0h2m3 0h1m8 0h1m90 0h2m-2 0h1m-139 1h1m0 0h2m7 0h1m24 0h2m0 0h2m-1 0h1m5 0h1m0 0h1m1 0h2m0 0h2m4 0h2m2 0h2m5 0h2m6 0h2m-1 0h2m-1 0h2m0 0h2m15 0h2m15 0h2m17 0h2m4 0h2m21 0h2m3 0h1m0 0h2m-1 0h2m5 0h2m12 0h2m-197 1h2m3 0h1m2 0h2m4 0h2m10 0h1m3 0h1m9 0h1m1 0h2m14 0h1m0 0h2m8 0h1m4 0h1m7 0h1m5 0h2m18 0h1m21 0h2m8 0h2m-127 1h1m-1 0h2m-1 0h2m5 0h2m2 0h1m1 0h2m0 0h1m1 0h1m13 0h1m2 0h2m1 0h2m1 0h2m-2 0h1m6 0h2m6 0h2m4 0h1m6 0h2m12 0h2m0 0h2m3 0h2m13 0h1m10 0h2m4 0h2m0 0h2m3 0h2m2 0h2m45 0h1m-187 1h2m4 0h2m-1 0h1m12 0h1m1 0h2m3 0h1m0 0h1m0 0h1m12 0h2m0 0h2m3 0h1m-1 0h2m1 0h1m2 0h2m8 0h2m2 0h2m2 0h2m4 0h1m2 0h2m3 0h2m6 0h2m0 0h1m0 0h2m-1 0h2m9 0h1m37 0h2m3 0h2m11 0h2m3 0h2m7 0h1m10 0h2m-221 1h1m31 0h2m0 0h2m-1 0h2m3 0h2m6 0h2m-1 0h2m1 0h2m16 0h2m0 0h2m6 0h1m7 0h2m0 0h1m0 0h1m6 0h2m-1 0h2m3 0h2m-1 0h1m1 0h1m5 0h2m6 0h1m7 0h2m1 0h2m1 0h2m12 0h2m28 0h1m6 0h2m3 0h1m4 0h2m-171 1h2m4 0h1m3 0h1m-1 0h2m1 0h2m4 0h1m18 0h1m-1 0h2m0 0h1m9 0h2m0 0h2m7 0h2m0 0h1m0 0h2m8 0h1m5 0h2m12 0h2m4 0h1m5 0h1m1 0h2m0 0h2m-1 0h1m8 0h1m14 0h2m6 0h2m23 0h2m25 0h1m-205 1h1m13 0h2m-1 0h1m7 0h2m5 0h1m0 0h1m5 0h1m1 0h2m7 0h2m8 0h1m10 0h1m2 0h1m1 0h2m15 0h1m-1 0h2m1 0h2m3 0h2m0 0h1m12 0h2m7 0h1m14 0h2m5 0h2m24 0h2m-1 0h2m17 0h2m-190 1h1m2 0h2m-2 0h1m1 0h1m0 0h1m5 0h2m3 0h2m-2 0h1m1 0h2m2 0h2m3 0h1m1 0h2m1 0h1m5 0h2m4 0h2m0 0h2m-2 0h1m29 0h2m3 0h2m2 0h1m2 0h2m-1 0h2m-1 0h2m4 0h2m12 0h1m-1 0h2m8 0h1m20 0h1m5 0h2m7 0h2m-175 1h2m30 0h1m0 0h1m0 0h1m-1 0h2m-1 0h2m6 0h2m-1 0h2m0 0h1m5 0h2m0 0h2m1 0h1m3 0h1m1 0h2m1 0h2m6 0h2m-1 0h1m0 0h1m5 0h2m3 0h2m17 0h2m0 0h1m0 0h2m2 0h2m4 0h1m2 0h2m15 0h2m0 0h2m8 0h2m0 0h2m-1 0h2m38 0h2m-183 1h2m1 0h2m-1 0h1m1 0h2m4 0h1m1 0h2m2 0h2m1 0h2m6 0h2m12 0h1m4 0h2m3 0h2m8 0h2m2 0h2m5 0h2m5 0h2m0 0h2m1 0h2m9 0h2m0 0h1m11 0h2m8 0h1m9 0h2m6 0h2m46 0h2m3 0h2m3 0h1m-187 1h1m6 0h2m5 0h1m0 0h1m0 0h2m0 0h1m2 0h1m-1 0h2m-1 0h2m-1 0h2m1 0h2m1 0h2m-2 0h1m6 0h1m1 0h2m0 0h2m14 0h2m0 0h1m-1 0h2m6 0h2m0 0h2m-1 0h1m2 0h2m-1 0h1m6 0h1m3 0h2m7 0h2m3 0h2m-1 0h1m0 0h2m6 0h1m1 0h2m22 0h2m5 0h2m0 0h2m-174 1h2m8 0h2m7 0h2m5 0h2m1 0h2m-1 0h2m3 0h2m12 0h1m1 0h2m8 0h1m2 0h1m4 0h2m6 0h1m1 0h2m8 0h1m9 0h1m9 0h1m15 0h1m11 0h2m32 0h1m-1 0h2m10 0h1m4 0h1m17 0h2m-210 1h2m21 0h2m1 0h2m3 0h2m-2 0h1m2 0h1m4 0h2m9 0h1m1 0h2m9 0h2m1 0h2m0 0h2m0 0h2m4 0h1m18 0h1m13 0h2m8 0h2m0 0h1m4 0h2m-1 0h2m3 0h2m9 0h2m4 0h1m55 0h2m-188 1h1m4 0h1m9 0h1m1 0h1m2 0h1m0 0h1m4 0h1m-1 0h2m-1 0h2m-1 0h1m-1 0h2m0 0h1m5 0h1m4 0h2m5 0h2m6 0h2m0 0h2m-2 0h1m3 0h1m10 0h2m0 0h2m0 0h1m-1 0h2m-1 0h1m0 0h2m12 0h2m2 0h2m7 0h2m11 0h1m5 0h1m1 0h2m14 0h2m-140 1h2m5 0h2m3 0h2m0 0h2m4 0h2m3 0h1m1 0h2m-1 0h2m-1 0h1m13 0h1m2 0h2m5 0h2m11 0h2m-2 0h1m0 0h1m6 0h2m1 0h1m2 0h1m-1 0h2m1 0h2m2 0h2m5 0h1m1 0h1m9 0h2m2 0h1m0 0h2m1 0h2m-1 0h1m3 0h2m13 0h2m5 0h2m10 0h2m15 0h2m10 0h2m-204 1h2m7 0h2m0 0h2m5 0h2m10 0h2m4 0h2m-1 0h1m2 0h2m-1 0h2m0 0h1m-1 0h2m-1 0h1m0 0h2m1 0h1m-1 0h2m-1 0h2m-1 0h2m0 0h1m1 0h1m1 0h1m8 0h1m24 0h1m14 0h1m0 0h2m2 0h2m7 0h1m7 0h2m8 0h2m1 0h1m14 0h2m7 0h2m1 0h2m10 0h2m9 0h1m-186 1h2m10 0h2m-2 0h1m0 0h1m0 0h2m8 0h1m3 0h2m9 0h2m-1 0h1m-1 0h2m0 0h2m3 0h1m2 0h1m7 0h1m4 0h1m14 0h2m-1 0h2m0 0h2m1 0h2m6 0h2m12 0h2m3 0h2m7 0h2m2 0h1m2 0h2m1 0h1m0 0h2m6 0h1m15 0h1m4 0h2m7 0h2m18 0h1m3 0h1m-200 1h1m8 0h2m4 0h1m4 0h2m5 0h1m0 0h1m5 0h2m1 0h2m3 0h2m-1 0h2m0 0h1m1 0h2m0 0h2m-1 0h1m1 0h1m1 0h2m-2 0h1m8 0h2m-1 0h2m0 0h1m1 0h1m2 0h1m3 0h1m3 0h2m-1 0h2m2 0h2m-1 0h1m1 0h1m2 0h2m5 0h2m9 0h1m0 0h2m14 0h1m7 0h1m35 0h1m14 0h1m11 0h2m26 0h1m6 0h2m-239 1h2m17 0h1m4 0h1m15 0h2m0 0h2m6 0h1m-1 0h2m-1 0h1m-1 0h2m0 0h2m-1 0h2m1 0h2m2 0h2m31 0h1m11 0h1m0 0h2m0 0h2m6 0h1m0 0h2m7 0h2m27 0h2m2 0h2m12 0h2m14 0h2m25 0h2m-202 1h1m2 0h1m7 0h1m5 0h1m1 0h1m4 0h2m0 0h2m-2 0h1m7 0h1m-1 0h2m1 0h1m2 0h2m-1 0h2m-1 0h1m12 0h2m-1 0h1m6 0h2m1 0h1m4 0h1m1 0h1m4 0h2m-1 0h2m2 0h2m-1 0h2m-2 0h1m28 0h2m-1 0h2m5 0h1m0 0h2m26 0h1m0 0h2m5 0h1m16 0h2m-192 1h1m8 0h1m1 0h2m-1 0h1m3 0h2m5 0h1m1 0h1m3 0h2m-2 0h1m5 0h2m1 0h2m0 0h2m0 0h1m1 0h2m-2 0h1m1 0h1m-1 0h2m0 0h1m0 0h2m-1 0h2m-1 0h1m1 0h2m-1 0h1m0 0h1m0 0h2m-1 0h2m-1 0h2m2 0h2m1 0h2m-1 0h1m0 0h2m1 0h2m2 0h1m4 0h2m1 0h2m-1 0h2m-1 0h2m11 0h2m-1 0h1m2 0h1m0 0h1m16 0h1m3 0h2m-2 0h1m10 0h2m6 0h1m0 0h2m10 0h2m4 0h2m0 0h2m2 0h1m20 0h2m11 0h2m12 0h2m14 0h1m-236 1h1m9 0h2m-1 0h2m3 0h1m7 0h1m1 0h1m7 0h2m8 0h1m3 0h2m1 0h2m0 0h2m-1 0h2m-1 0h2m-1 0h2m-1 0h2m-1 0h1m0 0h2m0 0h1m0 0h1m0 0h1m2 0h2m2 0h2m4 0h1m1 0h2m-1 0h1m13 0h1m0 0h2m4 0h1m6 0h2m7 0h1m1 0h2m0 0h2m6 0h1m0 0h1m4 0h2m15 0h1m1 0h1m5 0h2m3 0h1m3 0h2m18 0h2m14 0h2m3 0h2m7 0h1m-214 1h1m4 0h1m0 0h2m-1 0h1m4 0h2m3 0h2m-1 0h2m1 0h2m1 0h1m9 0h1m3 0h2m0 0h2m3 0h2m-2 0h1m3 0h1m0 0h2m2 0h1m1 0h2m-2 0h1m2 0h2m2 0h2m3 0h1m-1 0h2m2 0h1m1 0h1m0 0h2m-1 0h2m8 0h2m0 0h1m3 0h1m2 0h2m5 0h2m13 0h1m0 0h1m5 0h1m2 0h2m6 0h2m51 0h2m3 0h2m-1 0h1m6 0h2m5 0h1m-196 1h2m7 0h1m4 0h2m0 0h1m11 0h2m3 0h1m-1 0h2m-1 0h1m2 0h2m-1 0h2m-2 0h1m2 0h1m0 0h2m1 0h2m-2 0h1m9 0h1m10 0h1m-1 0h2m6 0h2m7 0h1m1 0h2m17 0h2m2 0h1m11 0h1m62 0h2m-1 0h2m-198 1h2m-1 0h2m1 0h2m11 0h1m-1 0h2m-1 0h2m7 0h1m2 0h1m2 0h1m9 0h2m0 0h1m2 0h1m-1 0h2m0 0h2m3 0h1m-1 0h2m-1 0h2m-2 0h1m1 0h1m1 0h1m6 0h2m-1 0h2m5 0h1m2 0h2m4 0h2m2 0h1m-1 0h2m8 0h1m1 0h2m2 0h2m10 0h2m0 0h2m14 0h2m4 0h2m-2 0h1m2 0h1m0 0h2m34 0h2m9 0h2m5 0h1m24 0h1m65 0h1m-296 1h2m0 0h2m-1 0h2m4 0h2m0 0h2m-1 0h2m-1 0h2m1 0h2m3 0h2m0 0h2m0 0h2m8 0h1m0 0h1m0 0h1m2 0h1m0 0h1m6 0h2m-1 0h1m-1 0h2m-1 0h1m0 0h1m0 0h2m0 0h2m2 0h1m1 0h2m-1 0h2m-1 0h1m0 0h2m-1 0h2m-1 0h2m-1 0h2m15 0h2m0 0h2m1 0h2m0 0h1m-1 0h2m44 0h1m1 0h1m13 0h2m43 0h1m6 0h1m1 0h2m-207 1h1m2 0h1m2 0h1m2 0h1m4 0h1m2 0h1m1 0h2m-1 0h1m0 0h2m1 0h2m0 0h2m4 0h2m-1 0h1m4 0h1m2 0h2m-2 0h1m6 0h1m-1 0h2m-1 0h1m0 0h2m-1 0h2m-1 0h1m0 0h1m1 0h1m1 0h1m0 0h2m0 0h1m0 0h2m1 0h1m1 0h1m4 0h2m-2 0h1m2 0h1m0 0h2m0 0h1m1 0h1m0 0h1m10 0h1m0 0h2m0 0h1m0 0h2m4 0h2m2 0h2m0 0h2m1 0h2m2 0h1m0 0h2m-1 0h2m1 0h1m3 0h2m3 0h2m8 0h2m3 0h2m5 0h1m25 0h2m4 0h1m9 0h2m6 0h1m-183 1h1m4 0h2m-1 0h1m19 0h2m2 0h1m1 0h2m-1 0h1m-1 0h2m-1 0h1m2 0h2m-2 0h1m0 0h1m2 0h1m3 0h1m0 0h1m-1 0h2m15 0h1m3 0h1m1 0h1m8 0h1m2 0h1m1 0h1m0 0h2m0 0h2m1 0h2m16 0h1m0 0h2m1 0h1m1 0h2m1 0h2m36 0h2m36 0h2m27 0h1m-241 1h2m0 0h2m4 0h2m0 0h2m13 0h1m0 0h2m1 0h2m0 0h1m7 0h2m-1 0h1m2 0h2m-1 0h2m-1 0h2m4 0h2m-2 0h1m0 0h1m0 0h2m0 0h1m0 0h2m0 0h2m0 0h1m0 0h2m-1 0h1m3 0h2m-1 0h1m5 0h1m7 0h2m5 0h1m1 0h2m5 0h2m8 0h2m3 0h1m-1 0h2m0 0h2m2 0h1m6 0h2m0 0h1m9 0h2m-1 0h2m14 0h1m8 0h1m11 0h2m4 0h1m10 0h2m24 0h2m-220 1h2m3 0h2m-2 0h1m7 0h1m8 0h1m0 0h1m5 0h2m8 0h2m4 0h2m3 0h1m1 0h2m0 0h2m-1 0h2m-1 0h2m-1 0h1m0 0h2m1 0h1m1 0h2m-1 0h2m-1 0h1m-1 0h2m10 0h2m8 0h2m8 0h1m-1 0h2m0 0h2m0 0h2m2 0h2m29 0h2m8 0h2m4 0h1m5 0h2m18 0h2m27 0h1m13 0h2m8 0h1m-232 1h2m6 0h1m0 0h2m2 0h1m4 0h2m-1 0h1m6 0h2m8 0h2m1 0h2m-2 0h1m5 0h2m-1 0h1m-1 0h2m-1 0h1m2 0h2m1 0h2m3 0h1m1 0h2m-1 0h1m0 0h1m1 0h2m0 0h2m0 0h1m1 0h2m8 0h2m0 0h2m2 0h1m1 0h1m4 0h2m2 0h1m-1 0h2m1 0h1m0 0h1m0 0h1m-1 0h2m5 0h2m0 0h1m0 0h1m3 0h1m0 0h2m-1 0h1m11 0h2m-1 0h2m3 0h2m8 0h1m10 0h1m2 0h2m12 0h1m13 0h1m7 0h2m1 0h2m18 0h1m1 0h2m-219 1h2m-1 0h2m0 0h2m-1 0h1m0 0h1m0 0h1m-1 0h2m6 0h1m0 0h2m8 0h2m-1 0h1m1 0h2m-1 0h2m6 0h2m1 0h2m-1 0h1m-1 0h2m1 0h1m0 0h2m-1 0h1m-1 0h2m-1 0h2m-1 0h2m2 0h1m0 0h1m-1 0h2m0 0h1m-1 0h2m3 0h1m-1 0h2m2 0h1m4 0h2m7 0h1m-1 0h2m-1 0h2m-1 0h2m-1 0h1m7 0h2m15 0h2m-1 0h2m7 0h2m-2 0h1m27 0h2m18 0h2m2 0h1m19 0h1m6 0h1m10 0h2m23 0h1m-234 1h2m8 0h2m1 0h2m10 0h1m2 0h1m1 0h1m1 0h2m-1 0h2m0 0h2m5 0h2m-1 0h2m-1 0h2m-2 0h1m0 0h1m-1 0h2m-1 0h2m1 0h1m0 0h1m2 0h1m0 0h1m0 0h2m0 0h1m-1 0h2m0 0h1m1 0h2m1 0h1m-1 0h2m-1 0h1m3 0h1m0 0h2m4 0h2m3 0h2m1 0h2m5 0h2m3 0h2m2 0h1m0 0h2m2 0h2m5 0h2m2 0h1m9 0h1m29 0h2m7 0h1m7 0h1m17 0h2m15 0h1m6 0h2m-216 1h2m4 0h2m1 0h2m8 0h1m0 0h2m-1 0h2m0 0h2m0 0h1m0 0h2m1 0h1m0 0h1m0 0h1m8 0h2m0 0h2m-1 0h1m0 0h1m-1 0h2m-1 0h2m0 0h1m0 0h2m0 0h1m-1 0h2m-1 0h1m0 0h2m0 0h2m-1 0h2m-2 0h1m0 0h1m0 0h2m1 0h2m-2 0h1m0 0h1m2 0h1m0 0h2m-1 0h1m3 0h2m0 0h2m1 0h1m0 0h1m5 0h2m7 0h2m2 0h2m0 0h2m0 0h2m0 0h2m5 0h1m9 0h1m6 0h2m1 0h1m30 0h2m14 0h2m8 0h2m42 0h2m4 0h2m-240 1h2m1 0h2m1 0h2m3 0h1m-1 0h2m1 0h2m0 0h2m0 0h1m5 0h2m2 0h1m11 0h2m-1 0h2m-1 0h2m2 0h2m-1 0h1m0 0h2m1 0h2m0 0h1m0 0h1m0 0h2m-2 0h1m0 0h2m-1 0h1m1 0h1m0 0h2m2 0h1m2 0h2m5 0h2m2 0h1m0 0h1m2 0h1m1 0h2m0 0h2m-1 0h2m-1 0h2m5 0h1m4 0h2m-1 0h1m5 0h2m-2 0h1m2 0h1m7 0h2m3 0h2m13 0h1m6 0h2m-1 0h2m14 0h2m21 0h1m33 0h1m-215 1h2m-1 0h1m23 0h2m10 0h1m0 0h1m-1 0h2m-1 0h2m0 0h1m1 0h2m-1 0h2m-1 0h1m-1 0h2m0 0h1m0 0h2m1 0h1m-1 0h2m0 0h2m-2 0h1m0 0h1m0 0h2m-2 0h1m0 0h2m-2 0h1m0 0h2m1 0h2m-2 0h1m0 0h1m-1 0h2m8 0h2m0 0h1m2 0h1m6 0h2m10 0h2m6 0h2m18 0h2m5 0h1m13 0h1m2 0h2m1 0h1m33 0h2m19 0h2m10 0h1m17 0h2m-242 1h2m0 0h2m-1 0h2m-1 0h1m5 0h1m1 0h2m0 0h2m7 0h1m9 0h1m6 0h1m3 0h2m0 0h1m-1 0h2m-1 0h2m3 0h1m-1 0h2m-1 0h2m2 0h1m-1 0h2m0 0h2m-1 0h1m0 0h2m-1 0h2m-1 0h1m-1 0h2m-1 0h1m0 0h1m3 0h1m1 0h2m-1 0h2m4 0h2m1 0h2m1 0h1m4 0h2m-1 0h2m10 0h2m0 0h1m0 0h2m5 0h2m4 0h1m3 0h2m2 0h1m-1 0h2m5 0h1m0 0h1m0 0h2m6 0h1m4 0h1m31 0h1m20 0h1m-202 1h2m2 0h1m-1 0h2m-1 0h1m2 0h2m-1 0h1m0 0h1m0 0h1m1 0h2m0 0h2m2 0h1m2 0h2m-2 0h1m3 0h2m5 0h2m1 0h1m8 0h2m-1 0h2m3 0h2m-2 0h1m1 0h1m0 0h2m-2 0h1m0 0h1m-1 0h2m1 0h1m4 0h1m4 0h2m0 0h2m0 0h1m4 0h2m4 0h2m1 0h2m6 0h1m0 0h2m14 0h2m1 0h1m5 0h2m-1 0h2m1 0h1m7 0h2m2 0h2m0 0h1m0 0h2m4 0h2m10 0h2m14 0h1m-169 1h1m0 0h2m-1 0h1m1 0h2m6 0h2m1 0h1m0 0h1m1 0h1m-1 0h2m4 0h2m-2 0h1m0 0h2m4 0h1m1 0h2m0 0h2m0 0h2m0 0h2m-1 0h1m-1 0h2m0 0h2m-1 0h1m0 0h2m-1 0h2m1 0h2m-1 0h2m-1 0h2m0 0h2m0 0h1m0 0h2m1 0h1m1 0h1m2 0h1m4 0h2m17 0h1m1 0h2m2 0h2m-2 0h1m0 0h1m0 0h2m-2 0h1m4 0h2m1 0h2m6 0h2m-1 0h1m2 0h1m3 0h1m18 0h2m8 0h2m0 0h2m4 0h1m10 0h2m4 0h1m2 0h2m7 0h1m17 0h2m25 0h2m-237 1h2m-1 0h2m11 0h1m9 0h2m2 0h2m6 0h1m0 0h2m-1 0h2m2 0h1m1 0h2m1 0h1m0 0h2m0 0h2m-2 0h1m0 0h2m0 0h2m-1 0h2m-1 0h1m1 0h2m1 0h1m-1 0h2m-1 0h1m-1 0h2m0 0h1m3 0h1m0 0h1m1 0h1m-1 0h2m-1 0h1m3 0h1m11 0h2m6 0h2m0 0h2m0 0h2m-1 0h2m3 0h1m5 0h2m-1 0h1m0 0h1m4 0h1m0 0h2m5 0h2m-1 0h2m7 0h2m0 0h2m5 0h2m0 0h2m24 0h1m0 0h2m28 0h1m10 0h1m0 0h2m-217 1h1m2 0h1m1 0h2m0 0h1m9 0h1m12 0h1m0 0h2m-1 0h1m-1 0h2m-1 0h1m9 0h2m-1 0h2m-1 0h1m0 0h1m0 0h1m1 0h2m-1 0h1m0 0h2m-1 0h1m0 0h2m0 0h2m-1 0h2m-1 0h2m-2 0h1m0 0h1m1 0h2m-2 0h1m0 0h1m-1 0h2m-1 0h1m0 0h2m2 0h1m1 0h2m1 0h2m8 0h2m1 0h1m0 0h1m3 0h2m-1 0h2m-2 0h1m1 0h2m0 0h1m2 0h2m3 0h1m5 0h2m-1 0h1m3 0h2m5 0h2m15 0h2m1 0h1m66 0h2m29 0h1m-235 1h1m0 0h2m3 0h1m8 0h2m0 0h1m4 0h1m-1 0h2m-1 0h2m3 0h2m10 0h1m-1 0h2m-1 0h1m0 0h2m-2 0h1m2 0h1m0 0h2m-1 0h2m-1 0h1m0 0h2m1 0h1m1 0h2m0 0h2m-1 0h2m-2 0h1m5 0h1m3 0h2m-1 0h2m-1 0h2m2 0h2m4 0h2m8 0h1m0 0h2m5 0h2m11 0h1m7 0h2m3 0h2m0 0h2m8 0h2m1 0h2m13 0h2m30 0h2m-193 1h1m1 0h2m8 0h1m-1 0h2m1 0h2m-1 0h2m3 0h2m2 0h1m1 0h2m13 0h1m1 0h2m0 0h2m-1 0h1m4 0h2m0 0h1m1 0h1m0 0h1m1 0h2m-1 0h2m-2 0h1m1 0h1m-1 0h2m7 0h1m10 0h2m1 0h2m0 0h1m0 0h2m20 0h2m8 0h2m-1 0h2m0 0h2m8 0h2m-1 0h1m34 0h2m1 0h2m23 0h1m11 0h2m23 0h2m-236 1h2m-1 0h1m-1 0h2m0 0h2m1 0h2m2 0h2m5 0h2m3 0h1m3 0h2m1 0h2m1 0h1m1 0h2m-1 0h2m0 0h2m7 0h2m-2 0h1m2 0h1m0 0h2m-1 0h2m-1 0h1m0 0h2m1 0h2m5 0h2m-1 0h1m1 0h2m-1 0h2m-1 0h2m8 0h2m0 0h1m0 0h2m-1 0h2m0 0h1m1 0h2m1 0h2m5 0h2m7 0h2m0 0h2m2 0h1m0 0h2m4 0h2m0 0h2m0 0h2m0 0h2m22 0h1m6 0h2m2 0h2m16 0h2m21 0h2m-199 1h2m0 0h2m1 0h2m1 0h1m1 0h2m-1 0h1m-1 0h2m0 0h2m6 0h1m4 0h2m-1 0h1m6 0h2m4 0h2m-1 0h2m0 0h1m1 0h1m2 0h1m4 0h1m2 0h1m3 0h1m-1 0h2m1 0h2m4 0h1m6 0h1m4 0h2m0 0h2m5 0h2m1 0h1m1 0h2m2 0h2m14 0h2m0 0h2m6 0h1m1 0h2m16 0h2m-2 0h1m4 0h1m5 0h2m7 0h2m9 0h2m16 0h1m17 0h1m4 0h1m-220 1h2m-1 0h2m-1 0h1m0 0h1m-1 0h2m0 0h2m1 0h1m1 0h1m0 0h2m-1 0h1m9 0h1m1 0h1m1 0h1m6 0h1m1 0h1m4 0h2m1 0h2m0 0h1m3 0h1m-1 0h2m-1 0h1m0 0h2m-1 0h1m0 0h2m1 0h1m-1 0h2m-1 0h2m-2 0h1m1 0h1m0 0h1m0 0h1m0 0h2m-1 0h2m-1 0h2m-2 0h1m0 0h2m-1 0h1m11 0h1m2 0h2m5 0h1m3 0h2m-1 0h2m8 0h2m2 0h1m5 0h2m10 0h1m5 0h2m16 0h1m6 0h2m-159 1h2m-2 0h1m0 0h2m1 0h2m1 0h1m5 0h2m3 0h2m4 0h2m-1 0h1m-1 0h2m-1 0h1m1 0h1m14 0h2m-1 0h2m-1 0h2m0 0h2m-1 0h2m1 0h2m1 0h1m1 0h1m1 0h2m0 0h2m0 0h2m-1 0h2m-1 0h1m0 0h1m0 0h1m-1 0h2m0 0h1m16 0h2m0 0h2m0 0h2m5 0h1m8 0h2m2 0h1m2 0h2m1 0h1m1 0h2m0 0h1m2 0h2m15 0h2m11 0h1m13 0h2m-168 1h2m-1 0h1m0 0h2m0 0h2m5 0h2m1 0h1m10 0h2m3 0h2m3 0h2m3 0h2m2 0h1m-1 0h2m0 0h2m0 0h2m-1 0h2m-1 0h2m-1 0h2m0 0h2m-1 0h1m2 0h2m-1 0h2m-1 0h1m1 0h2m-1 0h2m-2 0h1m0 0h1m0 0h2m1 0h2m9 0h1m1 0h2m2 0h1m5 0h2m1 0h2m13 0h1m6 0h2m-1 0h2m0 0h1m8 0h2m1 0h2m0 0h2m5 0h1m4 0h2m3 0h1m14 0h2m22 0h2m20 0h1m-210 1h1m0 0h2m0 0h1m-1 0h2m17 0h2m0 0h1m15 0h2m2 0h1m-1 0h2m-1 0h2m-2 0h1m0 0h2m-1 0h1m-1 0h2m3 0h1m-1 0h2m-1 0h1m2 0h2m-1 0h2m-1 0h1m-1 0h2m0 0h2m0 0h1m0 0h2m1 0h1m0 0h1m5 0h1m2 0h1m6 0h1m0 0h2m7 0h1m4 0h2m11 0h2m-2 0h1m3 0h1m1 0h1m0 0h1m10 0h1m-1 0h2m-1 0h1m13 0h2m20 0h1m34 0h1m12 0h2m256 0h2m-473 1h2m2 0h1m3 0h1m0 0h1m1 0h1m10 0h1m2 0h2m5 0h2m3 0h2m-1 0h1m6 0h1m0 0h2m-1 0h2m-1 0h1m0 0h1m0 0h1m0 0h2m-2 0h1m2 0h1m0 0h1m0 0h1m1 0h2m-2 0h1m0 0h2m-2 0h1m0 0h1m0 0h2m1 0h2m3 0h2m0 0h2m2 0h2m8 0h2m11 0h2m1 0h2m3 0h2m13 0h1m6 0h1m6 0h1m5 0h2m20 0h1m19 0h1m12 0h1m272 0h1m-469 1h2m0 0h1m-1 0h2m0 0h1m3 0h2m6 0h1m10 0h2m11 0h2m0 0h2m-1 0h1m-1 0h2m0 0h1m0 0h1m0 0h2m-1 0h2m-1 0h2m-1 0h2m-1 0h2m-1 0h2m0 0h1m1 0h2m0 0h1m2 0h2m0 0h1m7 0h1m6 0h2m6 0h2m0 0h1m4 0h2m9 0h1m6 0h2m9 0h2m15 0h1m-1 0h2m8 0h1m30 0h1m17 0h2m33 0h1m-237 1h2m-1 0h1m1 0h1m-1 0h2m-1 0h2m-1 0h2m2 0h1m1 0h1m7 0h1m1 0h2m1 0h2m0 0h2m19 0h2m-1 0h2m1 0h2m-2 0h1m0 0h1m2 0h1m0 0h2m4 0h2m1 0h2m-1 0h2m4 0h1m1 0h1m11 0h1m13 0h2m-1 0h1m0 0h2m2 0h2m4 0h2m5 0h2m17 0h1m17 0h2m0 0h1m13 0h2m4 0h2m273 0h1m2 0h1m0 0h1m-457 1h2m0 0h1m-1 0h2m0 0h1m4 0h1m6 0h2m-1 0h2m1 0h2m2 0h1m1 0h1m2 0h2m0 0h1m0 0h1m5 0h2m3 0h2m2 0h2m-2 0h1m0 0h2m1 0h2m0 0h1m1 0h1m1 0h1m-1 0h2m6 0h1m0 0h1m1 0h2m-1 0h2m7 0h2m0 0h1m4 0h1m7 0h2m0 0h2m15 0h2m-1 0h1m4 0h1m1 0h2m0 0h1m18 0h1m4 0h1m3 0h2m-1 0h1m15 0h2m-169 1h2m7 0h2m-1 0h1m12 0h2m-1 0h1m0 0h1m10 0h1m0 0h1m6 0h2m1 0h2m-1 0h2m-1 0h1m0 0h1m-1 0h2m-1 0h1m0 0h2m2 0h2m-1 0h2m-1 0h1m0 0h1m7 0h1m1 0h2m11 0h1m0 0h1m0 0h2m5 0h2m16 0h2m3 0h1m7 0h2m2 0h2m50 0h2m0 0h1m3 0h1m294 0h2m-481 1h2m3 0h1m0 0h2m-1 0h1m0 0h2m7 0h2m-1 0h1m8 0h2m0 0h2m-1 0h1m2 0h2m1 0h2m-1 0h1m3 0h1m0 0h1m1 0h2m-1 0h2m-1 0h2m-1 0h1m1 0h2m-1 0h1m1 0h1m0 0h1m0 0h2m0 0h2m-1 0h2m-2 0h1m0 0h2m-1 0h2m-1 0h2m0 0h2m-1 0h1m0 0h2m4 0h2m4 0h2m0 0h1m14 0h2m3 0h1m3 0h1m4 0h1m3 0h2m4 0h2m-1 0h2m12 0h2m9 0h1m6 0h1m0 0h2m4 0h2m17 0h2m55 0h2m179 0h1m5 0h2m3 0h2m23 0h2m5 0h2m-460 1h2m-1 0h2m-1 0h2m-1 0h1m3 0h2m1 0h1m2 0h2m-1 0h2m8 0h2m0 0h2m-1 0h1m0 0h2m18 0h2m-1 0h1m1 0h1m0 0h2m0 0h1m-1 0h2m0 0h1m0 0h1m0 0h1m1 0h2m-1 0h1m0 0h2m2 0h2m1 0h1m0 0h2m6 0h2m5 0h1m4 0h2m-1 0h2m7 0h2m5 0h2m-1 0h1m7 0h2m5 0h1m5 0h2m0 0h2m52 0h2m46 0h2m0 0h2m158 0h1m50 0h2m9 0h1m-457 1h2m-2 0h1m0 0h1m1 0h1m0 0h2m-1 0h2m2 0h1m3 0h1m19 0h2m5 0h2m0 0h1m4 0h1m0 0h2m-1 0h2m-1 0h2m-1 0h1m0 0h2m-1 0h1m0 0h1m4 0h1m0 0h1m3 0h1m3 0h1m1 0h2m-1 0h2m2 0h2m5 0h2m2 0h1m10 0h2m-2 0h1m18 0h2m0 0h2m-1 0h2m6 0h2m4 0h2m2 0h2m0 0h2m12 0h2m13 0h1m28 0h2m21 0h2m193 0h2m26 0h2m17 0h2m3 0h2m-470 1h2m-1 0h1m4 0h2m7 0h2m-1 0h2m4 0h1m4 0h1m16 0h2m3 0h2m3 0h1m1 0h1m-1 0h2m0 0h2m-1 0h2m0 0h2m2 0h2m0 0h2m0 0h2m2 0h2m0 0h2m0 0h2m14 0h2m-1 0h2m12 0h2m5 0h2m1 0h2m9 0h1m23 0h1m11 0h2m20 0h1m261 0h2m8 0h1m15 0h2m-477 1h2m-1 0h2m0 0h1m0 0h1m0 0h2m7 0h2m4 0h1m1 0h1m3 0h2m0 0h2m9 0h2m-1 0h2m6 0h2m3 0h2m-1 0h2m0 0h2m0 0h1m0 0h1m-1 0h2m-1 0h2m3 0h2m-1 0h2m9 0h1m1 0h2m1 0h2m20 0h2m3 0h2m5 0h2m1 0h2m0 0h2m1 0h1m8 0h1m3 0h2m11 0h2m50 0h2m168 0h1m53 0h2m2 0h1m15 0h2m-448 1h2m4 0h1m-1 0h2m-1 0h2m-1 0h1m3 0h2m-1 0h2m1 0h1m4 0h2m-1 0h1m18 0h2m1 0h2m1 0h1m1 0h2m-1 0h1m-1 0h2m9 0h2m1 0h1m1 0h2m2 0h2m-1 0h1m1 0h1m5 0h1m3 0h1m8 0h1m4 0h2m0 0h1m1 0h2m2 0h1m1 0h1m2 0h1m13 0h2m3 0h2m0 0h2m0 0h2m1 0h2m9 0h1m1 0h1m-1 0h2m29 0h1m9 0h2m45 0h2m155 0h2m41 0h2m-437 1h2m-1 0h1m2 0h2m1 0h2m7 0h2m-1 0h2m0 0h1m10 0h1m4 0h1m5 0h1m13 0h1m3 0h2m-1 0h2m3 0h2m0 0h1m-1 0h2m3 0h2m5 0h1m3 0h1m1 0h2m8 0h1m1 0h2m15 0h1m6 0h1m2 0h2m-1 0h2m2 0h1m3 0h2m19 0h2m64 0h1m187 0h2m6 0h1m4 0h2m20 0h1m-442 1h2m-1 0h2m3 0h1m3 0h2m1 0h2m-1 0h2m-1 0h2m7 0h1m5 0h1m0 0h2m1 0h1m6 0h1m6 0h2m5 0h1m0 0h2m-2 0h1m0 0h2m2 0h2m8 0h2m8 0h1m1 0h2m0 0h1m1 0h1m0 0h2m2 0h1m-1 0h2m12 0h2m4 0h2m18 0h1m0 0h2m34 0h1m210 0h2m0 0h2m12 0h1m19 0h1m19 0h2m-441 1h1m0 0h1m2 0h1m-1 0h2m-1 0h2m0 0h1m-1 0h2m-1 0h2m-1 0h2m-1 0h1m0 0h1m1 0h2m1 0h1m0 0h2m1 0h1m0 0h2m7 0h2m-1 0h1m6 0h1m2 0h2m-1 0h1m0 0h2m0 0h2m8 0h1m0 0h1m17 0h1m0 0h1m11 0h2m1 0h1m40 0h1m1 0h2m1 0h1m3 0h2m11 0h2m245 0h2m4 0h1m75 0h2m3 0h2m-490 1h1m2 0h2m-2 0h1m0 0h2m-2 0h1m1 0h1m0 0h1m0 0h2m-1 0h2m1 0h2m-2 0h1m0 0h1m2 0h2m10 0h1m2 0h1m6 0h2m0 0h2m4 0h2m-1 0h1m1 0h1m13 0h2m-1 0h2m-1 0h2m1 0h1m-1 0h2m1 0h2m0 0h1m1 0h1m11 0h2m10 0h2m2 0h1m10 0h2m-1 0h2m2 0h1m6 0h1m2 0h2m2 0h2m6 0h1m1 0h2m233 0h2m-1 0h1m19 0h1m6 0h2m1 0h2m11 0h2m32 0h2m11 0h1m11 0h2m-483 1h2m1 0h2m-1 0h2m-1 0h1m0 0h1m0 0h2m7 0h1m1 0h1m18 0h2m1 0h2m-1 0h1m5 0h1m4 0h1m0 0h2m0 0h1m1 0h1m0 0h1m2 0h1m7 0h2m3 0h1m16 0h2m0 0h2m19 0h2m1 0h1m0 0h2m-1 0h1m1 0h2m-1 0h2m1 0h1m0 0h2m-1 0h2m-1 0h1m3 0h1m-1 0h2m0 0h2m2 0h2m6 0h2m10 0h2m79 0h1m100 0h2m52 0h2m34 0h1m35 0h2m-468 1h1m0 0h2m0 0h1m2 0h2m-1 0h2m14 0h1m9 0h2m-1 0h1m1 0h2m3 0h2m-1 0h2m3 0h2m2 0h2m0 0h2m0 0h1m-1 0h2m2 0h2m2 0h2m0 0h1m3 0h2m1 0h1m2 0h2m3 0h2m-1 0h1m2 0h2m-1 0h1m20 0h1m5 0h2m0 0h1m0 0h1m0 0h2m0 0h1m3 0h2m-1 0h2m-2 0h1m0 0h2m-1 0h2m2 0h1m0 0h1m7 0h2m-1 0h1m4 0h2m6 0h2m20 0h1m171 0h1m35 0h2m8 0h1m12 0h1m13 0h1m19 0h2m46 0h2m-489 1h2m1 0h2m-2 0h1m1 0h2m0 0h1m0 0h1m9 0h1m1 0h1m19 0h2m-1 0h2m-1 0h1m1 0h2m1 0h2m-1 0h1m-1 0h2m4 0h2m1 0h2m1 0h2m33 0h1m8 0h2m11 0h1m0 0h2m-1 0h1m-1 0h2m0 0h1m1 0h2m0 0h1m1 0h2m0 0h1m-1 0h2m-1 0h1m0 0h2m-1 0h2m0 0h1m2 0h1m0 0h2m7 0h2m64 0h1m132 0h1m31 0h1m3 0h1m1 0h1m10 0h2m2 0h1m37 0h1m20 0h1m-458 1h2m0 0h2m-1 0h2m-1 0h2m0 0h2m4 0h2m-1 0h1m0 0h2m2 0h2m-1 0h2m0 0h2m6 0h1m19 0h1m7 0h1m6 0h1m7 0h2m14 0h2m0 0h1m7 0h1m0 0h1m1 0h2m-1 0h2m3 0h1m0 0h2m0 0h1m1 0h1m1 0h2m0 0h2m-1 0h1m1 0h2m0 0h2m0 0h2m1 0h1m0 0h1m2 0h1m-1 0h2m-1 0h2m0 0h2m1 0h2m1 0h2m0 0h1m0 0h2m-1 0h2m-1 0h1m0 0h1m10 0h2m33 0h1m140 0h2m7 0h2m14 0h1m-1 0h2m-1 0h2m8 0h2m0 0h2m6 0h1m0 0h1m0 0h2m11 0h2m2 0h2m6 0h1m5 0h1m-413 1h1m0 0h1m0 0h1m0 0h2m0 0h1m0 0h2m-1 0h2m2 0h1m1 0h2m2 0h2m1 0h1m3 0h2m1 0h1m0 0h1m3 0h2m4 0h1m6 0h1m0 0h1m1 0h2m1 0h2m0 0h2m1 0h1m1 0h1m3 0h2m0 0h1m0 0h1m1 0h1m12 0h2m-2 0h1m2 0h1m13 0h1m1 0h2m-1 0h2m-1 0h2m1 0h2m-1 0h2m-1 0h2m-1 0h2m-1 0h2m0 0h2m0 0h2m0 0h2m2 0h1m0 0h1m-1 0h2m-1 0h1m0 0h2m-2 0h1m2 0h2m0 0h2m5 0h2m-1 0h2m-1 0h2m-1 0h1m0 0h1m3 0h2m-1 0h1m2 0h2m13 0h2m11 0h2m17 0h1m146 0h1m2 0h2m0 0h2m1 0h2m1 0h2m5 0h2m2 0h2m-1 0h2m2 0h2m13 0h1m13 0h2m29 0h1m-427 1h2m1 0h2m-1 0h1m3 0h2m-2 0h1m0 0h2m-1 0h2m2 0h2m4 0h2m-1 0h1m9 0h1m4 0h2m-1 0h2m0 0h1m0 0h2m-1 0h2m0 0h2m0 0h2m3 0h1m0 0h2m13 0h2m0 0h2m0 0h2m-1 0h2m-1 0h2m3 0h1m2 0h1m0 0h1m0 0h1m2 0h2m-2 0h1m4 0h2m0 0h2m-1 0h2m0 0h2m1 0h2m0 0h2m-1 0h1m0 0h2m-1 0h2m-1 0h1m3 0h2m0 0h1m-1 0h2m-1 0h2m1 0h1m0 0h2m0 0h2m-1 0h2m1 0h1m1 0h2m0 0h2m-1 0h2m0 0h1m-1 0h2m-1 0h1m2 0h1m-1 0h2m1 0h2m-2 0h1m0 0h1m5 0h2m3 0h2m-1 0h1m16 0h1m174 0h2m3 0h2m7 0h1m0 0h1m0 0h2m0 0h2m9 0h2m3 0h2m0 0h1m0 0h1m1 0h2m4 0h2m0 0h1m5 0h2m2 0h1m5 0h1m7 0h1m12 0h1m-422 1h2m0 0h2m0 0h1m2 0h1m4 0h1m3 0h1m5 0h1m1 0h2m-1 0h2m10 0h1m-1 0h2m7 0h1m0 0h1m2 0h1m6 0h1m2 0h2m-1 0h1m-1 0h2m-1 0h2m1 0h1m0 0h2m-1 0h1m1 0h1m0 0h2m0 0h2m2 0h2m0 0h2m7 0h2m1 0h1m2 0h1m0 0h2m5 0h1m4 0h2m-1 0h1m0 0h2m-2 0h1m8 0h2m2 0h2m3 0h1m0 0h1m0 0h1m1 0h2m0 0h1m0 0h2m-1 0h1m0 0h2m3 0h2m-1 0h2m0 0h2m89 0h2m97 0h2m-1 0h1m7 0h2m0 0h1m0 0h1m0 0h2m-1 0h1m4 0h2m1 0h1m3 0h2m5 0h2m-2 0h1m1 0h2m1 0h2m0 0h2m-2 0h1m1 0h2m-1 0h1m-380 1h2m-1 0h2m-1 0h2m-2 0h1m1 0h2m0 0h2m-1 0h2m10 0h1m4 0h2m1 0h2m-1 0h2m6 0h1m0 0h2m2 0h2m-2 0h1m1 0h2m-1 0h2m11 0h1m3 0h2m1 0h2m-1 0h2m-1 0h2m-1 0h1m0 0h2m-1 0h2m-2 0h1m2 0h2m3 0h2m5 0h1m3 0h2m-1 0h2m-1 0h1m-1 0h2m0 0h1m3 0h2m0 0h2m-2 0h1m8 0h2m2 0h1m2 0h2m1 0h2m-1 0h1m1 0h2m-1 0h2m-1 0h2m3 0h2m3 0h1m-1 0h2m1 0h2m2 0h1m0 0h2m0 0h2m-1 0h1m0 0h2m28 0h2m147 0h2m4 0h2m2 0h2m10 0h2m3 0h1m0 0h2m0 0h2m-1 0h2m-2 0h1m11 0h2m-1 0h2m3 0h2m9 0h1m4 0h2m-1 0h2m6 0h2m5 0h2m8 0h1m-413 1h2m-1 0h2m0 0h2m-1 0h2m-2 0h1m0 0h2m4 0h2m0 0h2m-1 0h1m1 0h2m0 0h2m1 0h1m0 0h2m1 0h2m3 0h1m0 0h2m0 0h2m0 0h2m21 0h2m-1 0h2m4 0h1m2 0h1m0 0h2m0 0h2m-2 0h1m0 0h2m-1 0h1m4 0h2m-1 0h2m2 0h2m-2 0h1m0 0h2m1 0h2m-1 0h2m0 0h2m-1 0h1m2 0h2m1 0h1m-1 0h2m-1 0h2m-1 0h2m-1 0h2m6 0h2m2 0h2m1 0h1m0 0h2m2 0h2m-1 0h2m-1 0h2m-1 0h2m0 0h1m9 0h2m0 0h2m2 0h2m0 0h1m-1 0h2m0 0h2m173 0h2m-1 0h1m-1 0h2m-1 0h2m-1 0h2m-1 0h1m8 0h1m2 0h1m-1 0h2m4 0h1m4 0h2m2 0h1m2 0h1m16 0h2m3 0h2m1 0h2m-1 0h2m-1 0h2m-1 0h1m2 0h2m-1 0h2m3 0h1m9 0h2m4 0h2m-410 1h2m-2 0h1m0 0h2m0 0h2m-1 0h1m1 0h1m3 0h1m3 0h2m0 0h2m-1 0h2m10 0h1m0 0h2m2 0h2m1 0h2m4 0h2m1 0h2m1 0h2m3 0h1m5 0h2m0 0h2m-1 0h2m3 0h2m0 0h1m3 0h2m-1 0h2m0 0h1m0 0h2m-1 0h2m0 0h2m0 0h2m1 0h1m-1 0h2m0 0h1m2 0h1m0 0h1m1 0h1m1 0h2m2 0h1m0 0h2m2 0h1m0 0h1m1 0h2m-1 0h2m5 0h1m1 0h2m-1 0h1m-1 0h2m2 0h1m-1 0h2m1 0h1m1 0h1m6 0h1m0 0h2m-1 0h2m-1 0h2m0 0h1m-1 0h2m0 0h2m-1 0h1m1 0h1m-1 0h2m-1 0h2m7 0h1m116 0h2m40 0h2m4 0h1m1 0h1m0 0h2m-1 0h1m6 0h2m2 0h1m7 0h1m1 0h2m1 0h1m1 0h2m13 0h2m7 0h1m1 0h1m14 0h1m-393 1h2m-1 0h2m-1 0h1m0 0h2m-1 0h1m10 0h1m2 0h1m3 0h2m0 0h2m8 0h2m0 0h2m1 0h2m0 0h1m2 0h2m3 0h2m0 0h2m1 0h2m7 0h2m-1 0h1m-1 0h2m4 0h1m1 0h2m-1 0h2m0 0h2m3 0h2m-2 0h1m0 0h2m-1 0h1m-1 0h2m-1 0h1m-1 0h2m-1 0h1m6 0h2m-2 0h1m0 0h1m3 0h2m-1 0h2m-1 0h1m1 0h2m0 0h2m0 0h2m7 0h2m3 0h1m1 0h1m1 0h1m1 0h1m3 0h2m0 0h1m0 0h2m1 0h1m0 0h2m0 0h2m2 0h2m-1 0h2m0 0h1m4 0h1m109 0h2m67 0h1m-1 0h2m2 0h2m-2 0h1m8 0h2m7 0h2m11 0h1m1 0h2m-1 0h2m1 0h1m0 0h1m11 0h2m0 0h1m6 0h2m4 0h2m-2 0h1m5 0h1m1 0h2m-404 1h1m-1 0h2m-1 0h2m-1 0h2m-1 0h1m8 0h1m2 0h1m7 0h2m1 0h2m1 0h1m4 0h2m3 0h1m9 0h2m3 0h2m2 0h2m0 0h2m1 0h1m-1 0h2m0 0h2m-1 0h1m1 0h1m0 0h1m3 0h1m0 0h2m-2 0h1m1 0h2m0 0h2m3 0h2m-1 0h2m-2 0h1m1 0h2m-1 0h2m4 0h1m4 0h2m0 0h1m4 0h1m-1 0h2m-1 0h1m-1 0h2m0 0h2m0 0h2m-1 0h1m1 0h2m0 0h1m4 0h1m0 0h2m0 0h1m3 0h2m0 0h2m1 0h2m-2 0h1m2 0h1m5 0h1m176 0h2m2 0h2m-1 0h1m-1 0h2m11 0h2m5 0h2m5 0h1m-1 0h2m-1 0h2m2 0h1m0 0h2m1 0h2m7 0h1m2 0h1m2 0h2m1 0h2m9 0h1m3 0h1m11 0h2m-407 1h1m0 0h1m0 0h1m-1 0h2m-1 0h1m-1 0h2m0 0h2m1 0h2m9 0h1m12 0h1m-1 0h2m-1 0h2m6 0h2m5 0h2m9 0h1m0 0h2m0 0h2m-1 0h1m-1 0h2m-1 0h2m1 0h2m0 0h2m-1 0h1m2 0h1m1 0h2m1 0h1m0 0h2m-2 0h1m0 0h2m-1 0h2m1 0h1m3 0h2m-1 0h2m0 0h1m0 0h2m-1 0h2m-1 0h2m-1 0h2m1 0h2m0 0h1m4 0h1m0 0h2m-1 0h2m-1 0h2m-2 0h1m1 0h1m3 0h2m-1 0h2m0 0h1m1 0h1m0 0h1m3 0h1m0 0h1m3 0h1m-1 0h2m1 0h2m-1 0h2m-1 0h1m0 0h2m-1 0h2m25 0h2m102 0h2m47 0h1m2 0h2m-1 0h2m-1 0h2m-1 0h1m-1 0h2m1 0h2m-2 0h1m1 0h2m2 0h1m3 0h1m4 0h2m-1 0h1m3 0h2m5 0h1m-1 0h2m2 0h2m4 0h1m6 0h2m12 0h2m3 0h1m2 0h1m-1 0h2m-395 1h2m3 0h2m-1 0h1m20 0h2m-1 0h1m9 0h2m4 0h2m-1 0h2m0 0h1m9 0h2m3 0h2m-1 0h1m1 0h1m4 0h2m0 0h2m0 0h1m0 0h1m-1 0h2m-1 0h1m-1 0h2m3 0h2m1 0h1m0 0h2m-2 0h1m0 0h2m0 0h1m5 0h2m5 0h1m1 0h1m2 0h2m2 0h2m-2 0h1m0 0h1m0 0h1m0 0h1m5 0h1m3 0h1m0 0h1m1 0h1m0 0h2m1 0h2m-1 0h1m0 0h2m-1 0h1m0 0h2m-1 0h2m1 0h2m0 0h2m1 0h2m112 0h1m12 0h2m46 0h2m0 0h1m1 0h2m-1 0h2m-1 0h2m0 0h2m6 0h2m1 0h2m3 0h2m0 0h2m5 0h1m1 0h2m-1 0h2m1 0h1m17 0h1m6 0h2m-1 0h2m2 0h2m-1 0h1m-1 0h2m1 0h1m3 0h1m11 0h2m-407 1h2m1 0h2m-1 0h2m-1 0h1m0 0h2m0 0h2m-1 0h2m7 0h1m3 0h2m1 0h2m0 0h1m0 0h2m2 0h2m1 0h1m3 0h1m4 0h2m4 0h2m1 0h2m5 0h2m0 0h2m1 0h2m0 0h1m1 0h2m3 0h1m-1 0h2m2 0h1m3 0h1m1 0h2m0 0h1m0 0h1m0 0h1m0 0h2m-2 0h1m1 0h1m3 0h2m0 0h2m0 0h1m0 0h1m1 0h2m1 0h1m0 0h2m-2 0h1m4 0h1m-1 0h2m-1 0h1m0 0h2m-1 0h2m-1 0h2m-1 0h2m0 0h2m-1 0h1m-1 0h2m-1 0h2m0 0h2m-1 0h1m1 0h1m-1 0h2m-1 0h1m0 0h2m-2 0h1m1 0h1m0 0h2m-1 0h2m-1 0h2m-1 0h1m1 0h2m-1 0h2m0 0h1m0 0h2m-1 0h1m1 0h1m24 0h1m89 0h2m63 0h1m0 0h1m1 0h2m4 0h2m-1 0h2m-1 0h1m-1 0h2m2 0h1m0 0h1m6 0h2m1 0h2m7 0h2m8 0h2m-2 0h1m9 0h2m12 0h2m-1 0h1m0 0h1m2 0h1m7 0h1m3 0h1m-411 1h1m-1 0h2m-1 0h2m-1 0h2m0 0h1m6 0h2m5 0h2m1 0h2m1 0h2m6 0h1m0 0h2m1 0h2m11 0h2m3 0h1m-1 0h2m5 0h1m1 0h2m0 0h2m4 0h2m-1 0h1m1 0h2m-1 0h2m-1 0h1m1 0h1m2 0h1m0 0h1m0 0h1m1 0h2m-1 0h2m-1 0h2m-1 0h2m-1 0h1m-1 0h2m0 0h2m0 0h2m0 0h2m-1 0h2m-1 0h1m0 0h2m1 0h1m1 0h2m2 0h1m0 0h1m4 0h2m-2 0h1m0 0h2m0 0h1m1 0h1m3 0h1m0 0h2m0 0h1m0 0h1m2 0h1m2 0h2m5 0h2m123 0h2m5 0h2m47 0h2m0 0h2m-1 0h2m1 0h2m0 0h1m13 0h2m1 0h1m1 0h2m0 0h2m0 0h2m2 0h2m4 0h1m4 0h1m7 0h2m1 0h2m0 0h1m0 0h1m2 0h2m15 0h2m-398 1h2m-1 0h2m-1 0h1m8 0h2m-2 0h1m1 0h2m-1 0h1m3 0h2m0 0h2m-1 0h1m12 0h1m22 0h1m-1 0h2m4 0h2m2 0h2m-1 0h1m0 0h2m-1 0h2m-2 0h1m0 0h1m6 0h2m3 0h2m-1 0h1m3 0h1m-1 0h2m0 0h1m1 0h2m-1 0h2m1 0h2m4 0h2m-1 0h1m-1 0h2m2 0h2m0 0h1m4 0h1m1 0h2m-1 0h2m1 0h2m2 0h2m1 0h1m3 0h1m1 0h1m-1 0h2m125 0h2m35 0h1m17 0h2m0 0h1m1 0h2m-1 0h1m0 0h2m5 0h2m4 0h2m-1 0h1m2 0h2m3 0h2m0 0h1m1 0h2m-1 0h1m-1 0h2m2 0h2m4 0h1m12 0h1m6 0h2m1 0h1m9 0h2m-394 1h1m0 0h2m8 0h2m-2 0h1m7 0h2m-1 0h2m-1 0h2m6 0h1m9 0h1m16 0h1m1 0h2m0 0h2m-1 0h1m2 0h2m-1 0h1m2 0h1m-1 0h2m-1 0h1m-1 0h2m0 0h1m4 0h2m-2 0h1m2 0h2m-1 0h2m5 0h2m0 0h2m-1 0h1m5 0h2m-1 0h2m2 0h1m-1 0h2m-1 0h1m0 0h2m3 0h2m-1 0h2m3 0h1m0 0h2m-2 0h1m1 0h1m2 0h1m2 0h1m0 0h1m0 0h1m0 0h1m6 0h1m158 0h2m1 0h2m11 0h1m4 0h2m4 0h1m0 0h2m-1 0h2m-1 0h2m-1 0h2m0 0h2m-2 0h1m5 0h1m0 0h2m-2 0h1m7 0h2m9 0h1m-1 0h2m1 0h2m1 0h2m2 0h1m0 0h2m1 0h2m-1 0h2m-1 0h2m6 0h1m3 0h1m0 0h2m0 0h2m0 0h2m19 0h2m-408 1h2m0 0h2m2 0h1m0 0h2m7 0h2m6 0h1m1 0h1m0 0h2m8 0h2m21 0h2m1 0h1m5 0h2m3 0h1m0 0h2m2 0h2m-2 0h1m5 0h2m-1 0h2m1 0h2m1 0h2m-1 0h2m-1 0h2m0 0h2m1 0h2m0 0h2m1 0h1m0 0h2m3 0h2m-1 0h2m-1 0h2m-1 0h1m1 0h2m-1 0h2m-1 0h2m-1 0h2m0 0h1m3 0h1m135 0h1m32 0h1m23 0h1m-1 0h2m-1 0h2m-1 0h1m0 0h2m-1 0h2m1 0h1m0 0h2m6 0h1m9 0h2m1 0h2m7 0h2m20 0h1m1 0h1m1 0h1m0 0h2m6 0h2m0 0h1m-1 0h2m-1 0h1m1 0h1m-397 1h2m-1 0h1m-1 0h2m-1 0h2m-1 0h1m-1 0h2m0 0h1m2 0h2m13 0h2m0 0h2m11 0h2m11 0h1m12 0h2m0 0h2m0 0h2m3 0h2m-1 0h1m1 0h2m2 0h2m0 0h2m5 0h2m-1 0h2m-2 0h1m1 0h2m-1 0h1m-1 0h2m-1 0h1m-1 0h2m0 0h2m-1 0h2m-1 0h2m-1 0h1m2 0h1m0 0h1m-1 0h2m6 0h2m-1 0h2m-2 0h1m2 0h2m0 0h2m18 0h1m0 0h1m8 0h2m114 0h1m-1 0h2m50 0h1m3 0h1m0 0h2m0 0h1m1 0h2m-1 0h1m3 0h2m-1 0h2m2 0h1m-1 0h2m1 0h1m5 0h2m2 0h2m5 0h2m0 0h1m3 0h2m1 0h1m-1 0h2m0 0h1m1 0h2m6 0h2m8 0h2m2 0h2m5 0h2m-1 0h1m5 0h2m-406 1h2m0 0h1m1 0h1m0 0h1m4 0h2m7 0h2m-1 0h2m2 0h1m8 0h1m6 0h2m8 0h2m2 0h2m5 0h2m-2 0h1m3 0h2m3 0h2m-1 0h2m-1 0h2m-1 0h1m0 0h2m1 0h1m1 0h1m-1 0h2m2 0h1m5 0h2m3 0h2m0 0h1m1 0h1m-1 0h2m-1 0h1m0 0h2m-1 0h2m-1 0h1m4 0h1m-1 0h2m1 0h2m16 0h2m19 0h1m33 0h2m73 0h2m7 0h2m51 0h2m-2 0h1m2 0h2m-2 0h1m0 0h2m-1 0h1m0 0h1m0 0h2m-1 0h1m-1 0h2m-1 0h1m4 0h1m0 0h2m-1 0h1m6 0h2m3 0h1m2 0h2m-1 0h2m1 0h2m0 0h2m-1 0h2m1 0h1m0 0h1m1 0h2m1 0h2m3 0h2m4 0h2m-380 1h2m-1 0h1m1 0h2m-2 0h1m0 0h2m1 0h1m0 0h2m6 0h2m3 0h2m0 0h1m7 0h2m17 0h2m12 0h1m1 0h2m-1 0h2m1 0h2m0 0h1m0 0h1m6 0h1m2 0h2m2 0h2m2 0h2m-1 0h1m0 0h1m0 0h1m0 0h1m2 0h2m-1 0h2m-1 0h1m1 0h1m-1 0h2m1 0h1m0 0h2m1 0h2m39 0h1m124 0h2m17 0h2m19 0h1m0 0h2m2 0h1m0 0h2m-1 0h2m-1 0h2m1 0h2m2 0h2m10 0h2m-1 0h1m1 0h2m0 0h2m-1 0h2m1 0h1m-1 0h2m0 0h2m3 0h1m4 0h1m1 0h2m1 0h2m0 0h2m0 0h2m-1 0h1m1 0h1m17 0h1m-393 1h1m1 0h1m1 0h2m-1 0h2m-1 0h1m1 0h1m5 0h1m0 0h1m3 0h2m2 0h2m-1 0h2m1 0h2m8 0h2m10 0h1m5 0h2m3 0h2m-1 0h2m1 0h2m2 0h2m-1 0h2m-1 0h1m-1 0h2m1 0h2m-1 0h1m2 0h2m-1 0h2m1 0h2m2 0h2m4 0h1m0 0h1m1 0h1m1 0h1m-1 0h2m0 0h1m3 0h2m-2 0h1m36 0h2m114 0h2m9 0h1m1 0h2m14 0h1m16 0h1m0 0h2m8 0h1m5 0h2m0 0h1m0 0h1m0 0h2m-1 0h1m0 0h2m-1 0h1m0 0h1m0 0h2m-1 0h1m5 0h1m18 0h1m5 0h1m2 0h2m1 0h1m2 0h2m-1 0h2m9 0h1m7 0h1m-390 1h1m-1 0h2m-1 0h1m-1 0h2m0 0h2m1 0h2m0 0h2m4 0h2m-2 0h1m10 0h2m1 0h2m26 0h2m3 0h2m4 0h2m0 0h1m4 0h1m6 0h2m-2 0h1m2 0h1m2 0h2m5 0h2m0 0h2m-1 0h2m51 0h1m107 0h2m-1 0h2m1 0h2m47 0h2m0 0h2m1 0h2m0 0h2m-1 0h2m1 0h2m-1 0h1m-1 0h2m-1 0h1m1 0h1m0 0h2m-1 0h1m3 0h1m0 0h1m5 0h2m5 0h2m1 0h2m-1 0h1m1 0h2m3 0h1m0 0h2m2 0h2m0 0h2m-1 0h1m5 0h2m5 0h2m-1 0h2m-1 0h2m6 0h1m3 0h1m-393 1h1m0 0h2m0 0h2m-1 0h2m0 0h1m0 0h1m0 0h1m0 0h2m2 0h1m9 0h2m-1 0h2m8 0h2m2 0h2m2 0h2m0 0h1m1 0h2m5 0h2m8 0h1m0 0h2m-1 0h1m0 0h2m1 0h2m-1 0h1m0 0h1m-1 0h2m-1 0h1m0 0h2m5 0h2m3 0h1m-1 0h2m-1 0h2m24 0h2m31 0h2m4 0h2m112 0h1m1 0h1m0 0h2m34 0h2m3 0h2m7 0h1m1 0h2m-1 0h1m3 0h2m-1 0h2m-1 0h1m0 0h1m2 0h2m1 0h2m13 0h2m1 0h2m1 0h2m3 0h2m0 0h1m0 0h1m-1 0h2m6 0h2m4 0h2m-378 1h2m-1 0h2m5 0h2m-1 0h1m9 0h1m5 0h2m11 0h1m16 0h2m3 0h2m0 0h1m-1 0h2m0 0h2m-1 0h2m-2 0h1m0 0h2m-2 0h1m0 0h2m-1 0h1m-1 0h2m-1 0h1m0 0h1m0 0h2m34 0h1m-1 0h2m5 0h1m36 0h2m102 0h1m10 0h2m0 0h2m46 0h2m0 0h2m0 0h2m-1 0h2m-1 0h1m3 0h1m-1 0h2m0 0h1m6 0h2m7 0h1m-1 0h2m-1 0h1m3 0h2m8 0h1m1 0h2m-1 0h2m1 0h1m3 0h1m5 0h1m1 0h2m-379 1h2m-1 0h2m-1 0h2m1 0h2m2 0h1m0 0h1m4 0h1m9 0h1m19 0h2m-1 0h1m4 0h2m7 0h1m0 0h1m0 0h1m0 0h2m1 0h2m0 0h1m1 0h1m1 0h2m-1 0h1m0 0h2m2 0h1m4 0h2m3 0h1m2 0h1m2 0h2m8 0h2m-1 0h2m2 0h2m6 0h2m-1 0h2m1 0h1m15 0h1m124 0h2m5 0h2m35 0h2m-1 0h2m7 0h2m-1 0h2m-1 0h2m-1 0h1m0 0h2m-1 0h2m-2 0h1m1 0h1m1 0h2m-1 0h2m-2 0h1m0 0h2m5 0h1m7 0h1m6 0h2m-1 0h2m-1 0h2m-1 0h1m2 0h1m-1 0h2m4 0h1m4 0h2m0 0h2m2 0h2m7 0h2m-384 1h2m-1 0h2m-2 0h1m1 0h2m-1 0h2m15 0h1m7 0h1m0 0h2m16 0h1m10 0h1m4 0h1m-1 0h2m-1 0h2m-2 0h1m5 0h2m-1 0h2m-2 0h1m16 0h2m13 0h2m5 0h2m143 0h2m3 0h2m-2 0h1m0 0h1m3 0h2m-1 0h2m33 0h1m2 0h1m0 0h2m8 0h1m2 0h1m0 0h2m-1 0h2m-1 0h1m0 0h2m1 0h1m0 0h1m-1 0h2m5 0h1m1 0h2m-1 0h2m2 0h2m5 0h1m0 0h2m4 0h2m5 0h2m0 0h2m-1 0h2m3 0h2m1 0h2m-370 1h2m1 0h1m-1 0h2m17 0h1m3 0h2m3 0h1m24 0h2m-1 0h2m0 0h1m-1 0h2m-1 0h2m-1 0h2m-2 0h1m8 0h2m22 0h2m1 0h1m32 0h2m142 0h2m2 0h1m20 0h2m2 0h2m-1 0h1m-1 0h2m1 0h2m-1 0h2m4 0h1m-1 0h2m-1 0h2m-1 0h1m2 0h1m0 0h2m-1 0h1m0 0h1m-1 0h2m12 0h2m4 0h1m4 0h1m6 0h2m-2 0h1m0 0h1m4 0h1m0 0h2m4 0h1m-1 0h2m0 0h2m-1 0h1m0 0h2m6 0h1m-382 1h2m0 0h1m31 0h1m8 0h2m5 0h1m9 0h1m0 0h1m1 0h1m1 0h2m0 0h1m35 0h2m9 0h2m-1 0h1m7 0h1m5 0h1m14 0h2m109 0h2m7 0h2m0 0h2m-1 0h1m4 0h2m5 0h1m10 0h1m3 0h2m3 0h2m9 0h2m-1 0h2m3 0h2m-1 0h1m0 0h2m-1 0h2m0 0h2m-1 0h1m-1 0h2m0 0h2m-2 0h1m1 0h1m0 0h2m1 0h1m2 0h1m3 0h1m2 0h1m7 0h2m4 0h1m1 0h2m3 0h2m6 0h1m-372 1h1m3 0h2m29 0h2m22 0h2m3 0h1m-1 0h2m-1 0h2m-1 0h1m0 0h1m0 0h1m-1 0h2m-1 0h2m-1 0h2m3 0h1m0 0h2m0 0h1m26 0h1m26 0h1m11 0h2m122 0h2m1 0h2m7 0h2m-1 0h2m22 0h1m1 0h1m1 0h1m10 0h2m0 0h1m0 0h2m-1 0h2m-1 0h1m-1 0h2m-1 0h1m-1 0h2m-1 0h1m4 0h1m1 0h2m3 0h2m-2 0h1m5 0h2m-1 0h1m-1 0h2m1 0h1m10 0h2m0 0h2m-1 0h2m5 0h2m-2 0h1m-372 1h2m-1 0h1m2 0h2m-2 0h1m15 0h2m18 0h2m-1 0h2m14 0h2m2 0h2m0 0h2m2 0h1m2 0h2m0 0h2m13 0h1m30 0h2m-1 0h2m0 0h1m0 0h2m0 0h2m3 0h1m127 0h2m2 0h2m0 0h2m4 0h1m2 0h1m1 0h1m9 0h1m6 0h1m8 0h2m16 0h2m0 0h1m0 0h2m1 0h1m1 0h1m0 0h2m-1 0h1m3 0h1m0 0h2m-1 0h1m0 0h2m0 0h2m0 0h1m0 0h1m2 0h1m5 0h2m1 0h2m0 0h2m10 0h2m0 0h1m0 0h2m-371 1h2m-1 0h1m5 0h1m6 0h1m3 0h2m34 0h2m7 0h2m-1 0h1m-1 0h2m2 0h2m0 0h2m4 0h1m1 0h2m31 0h2m0 0h2m12 0h1m26 0h2m116 0h1m1 0h2m1 0h2m5 0h1m2 0h2m5 0h2m1 0h2m3 0h2m-1 0h2m-1 0h1m14 0h1m1 0h1m0 0h2m-2 0h1m1 0h1m0 0h1m0 0h1m0 0h2m-1 0h2m-1 0h1m0 0h2m6 0h2m0 0h2m9 0h1m0 0h2m5 0h1m0 0h1m1 0h2m1 0h1m13 0h2m-379 1h1m-1 0h2m-1 0h1m1 0h1m0 0h1m8 0h2m22 0h2m4 0h1m2 0h2m12 0h2m-1 0h1m3 0h1m0 0h1m12 0h1m176 0h2m-2 0h1m3 0h2m-2 0h1m3 0h2m1 0h2m4 0h2m2 0h1m-1 0h2m5 0h2m-1 0h2m-1 0h1m0 0h2m0 0h1m4 0h2m-1 0h2m9 0h1m10 0h2m-1 0h2m-1 0h2m2 0h2m0 0h2m9 0h1m4 0h1m3 0h1m1 0h2m7 0h1m0 0h2m-2 0h1m1 0h1m1 0h1m0 0h2m-1 0h1m14 0h1m-376 1h1m-1 0h2m13 0h2m4 0h1m12 0h2m4 0h2m8 0h2m1 0h1m7 0h2m-2 0h1m4 0h1m48 0h1m0 0h2m22 0h2m109 0h1m2 0h1m2 0h1m0 0h2m2 0h2m3 0h1m3 0h2m0 0h2m0 0h2m5 0h1m14 0h1m1 0h2m-1 0h2m10 0h2m2 0h2m-2 0h1m5 0h1m0 0h1m0 0h1m9 0h1m0 0h2m1 0h2m3 0h1m6 0h1m2 0h1m6 0h1m-365 1h2m3 0h2m16 0h1m27 0h1m13 0h2m-1 0h1m0 0h2m-1 0h2m2 0h2m1 0h1m18 0h2m34 0h2m131 0h2m3 0h2m4 0h1m4 0h2m10 0h2m0 0h2m0 0h1m3 0h2m-1 0h1m2 0h1m1 0h2m1 0h1m4 0h2m0 0h1m4 0h1m1 0h1m0 0h2m-2 0h1m0 0h2m0 0h2m-2 0h1m0 0h1m-1 0h2m-1 0h2m3 0h1m0 0h1m4 0h2m-1 0h1m3 0h2m1 0h1m0 0h2m7 0h2m-1 0h2m24 0h2m-373 1h2m2 0h2m2 0h2m13 0h1m8 0h1m15 0h1m0 0h2m-1 0h2m-1 0h1m44 0h1m12 0h2m8 0h1m11 0h2m115 0h1m3 0h2m1 0h2m0 0h1m14 0h2m2 0h2m10 0h1m11 0h2m-1 0h1m1 0h1m2 0h1m-1 0h2m0 0h2m-1 0h2m-1 0h1m0 0h1m1 0h2m-1 0h2m-2 0h1m2 0h2m-1 0h1m0 0h2m-1 0h1m1 0h1m7 0h2m2 0h2m0 0h2m1 0h2m2 0h2m0 0h2m-361 1h1m4 0h1m-1 0h2m10 0h1m9 0h1m23 0h1m12 0h2m2 0h2m16 0h1m1 0h1m65 0h1m102 0h1m1 0h2m-1 0h1m1 0h2m0 0h2m-1 0h1m1 0h2m-1 0h1m0 0h2m3 0h1m1 0h2m2 0h2m1 0h1m-1 0h2m0 0h2m21 0h1m1 0h1m1 0h1m2 0h2m1 0h1m1 0h2m-1 0h1m2 0h1m1 0h2m-1 0h2m-2 0h1m2 0h1m2 0h1m5 0h1m-1 0h2m0 0h2m0 0h1m0 0h1m3 0h2m-2 0h1m8 0h2m8 0h2m2 0h2m1 0h2m-376 1h2m3 0h1m27 0h2m8 0h2m17 0h2m-1 0h1m2 0h2m-1 0h2m-1 0h2m2 0h1m37 0h2m12 0h2m2 0h1m136 0h2m6 0h2m1 0h2m-1 0h1m0 0h1m6 0h1m4 0h1m0 0h1m4 0h1m15 0h2m2 0h2m-1 0h2m1 0h1m0 0h2m-1 0h1m1 0h1m0 0h2m-1 0h2m-2 0h1m0 0h2m-1 0h1m-1 0h2m0 0h2m-1 0h2m3 0h2m3 0h2m-1 0h2m13 0h2m-358 1h1m2 0h1m2 0h2m10 0h2m0 0h1m1 0h1m12 0h1m27 0h1m2 0h2m-1 0h2m-1 0h2m13 0h2m26 0h1m10 0h2m11 0h1m4 0h1m5 0h2m2 0h2m103 0h1m0 0h2m10 0h2m-1 0h1m17 0h2m0 0h2m7 0h2m1 0h2m-1 0h2m-1 0h2m3 0h2m0 0h2m5 0h2m-1 0h2m-1 0h2m-2 0h1m0 0h2m-2 0h1m0 0h2m-1 0h1m1 0h1m0 0h2m-1 0h2m-1 0h1m10 0h2m2 0h1m-1 0h2m-1 0h2m0 0h1m2 0h1m0 0h2m3 0h1m15 0h2m23 0h1m-395 1h2m1 0h2m6 0h1m26 0h1m20 0h2m0 0h2m1 0h2m30 0h2m28 0h1m130 0h2m4 0h2m-1 0h2m12 0h2m-1 0h2m-1 0h1m2 0h2m3 0h1m1 0h2m1 0h2m3 0h2m4 0h2m3 0h2m0 0h2m1 0h1m0 0h1m1 0h2m0 0h2m0 0h1m-1 0h2m-1 0h2m-1 0h2m-1 0h1m0 0h2m-1 0h2m3 0h2m-1 0h2m6 0h2m-1 0h1m3 0h2m-349 1h2m-1 0h2m1 0h2m11 0h1m7 0h1m18 0h1m19 0h1m0 0h2m0 0h1m0 0h2m-1 0h1m15 0h2m40 0h2m-1 0h1m130 0h1m1 0h1m4 0h1m9 0h1m13 0h2m6 0h2m19 0h2m3 0h1m8 0h2m2 0h2m-2 0h1m0 0h2m3 0h2m14 0h2m33 0h2m-392 1h1m4 0h2m13 0h2m9 0h1m25 0h2m2 0h1m0 0h2m-2 0h1m0 0h2m-2 0h1m0 0h1m1 0h1m7 0h1m7 0h2m1 0h2m2 0h2m2 0h1m27 0h2m5 0h1m4 0h2m121 0h2m0 0h2m-1 0h1m-1 0h2m8 0h1m0 0h2m13 0h2m3 0h2m-2 0h1m7 0h2m-2 0h1m1 0h1m3 0h2m6 0h2m2 0h2m-1 0h1m0 0h1m3 0h2m-2 0h1m8 0h1m-1 0h2m1 0h1m5 0h2m-1 0h1m22 0h1m-367 1h2m0 0h2m2 0h2m-2 0h1m0 0h2m9 0h2m12 0h2m4 0h1m13 0h2m0 0h2m1 0h2m5 0h1m0 0h1m-1 0h2m-1 0h1m1 0h2m10 0h2m6 0h2m3 0h1m1 0h2m-1 0h2m156 0h2m1 0h1m9 0h2m1 0h2m-2 0h1m4 0h1m14 0h1m2 0h1m3 0h2m2 0h1m4 0h1m1 0h2m1 0h2m4 0h2m-1 0h1m-1 0h2m-1 0h1m0 0h2m-1 0h1m2 0h2m-1 0h1m-1 0h2m0 0h1m10 0h2m-1 0h1m8 0h2m4 0h2m-355 1h2m0 0h2m30 0h2m25 0h2m-1 0h2m0 0h1m2 0h2m6 0h1m0 0h2m2 0h2m2 0h1m8 0h2m6 0h1m2 0h2m10 0h2m3 0h1m-1 0h2m18 0h1m116 0h2m1 0h2m1 0h2m-1 0h1m0 0h2m3 0h2m-1 0h2m-1 0h1m1 0h2m2 0h1m10 0h1m6 0h2m6 0h2m0 0h2m2 0h1m1 0h1m0 0h2m2 0h2m-1 0h2m-1 0h2m-2 0h1m8 0h2m8 0h2m2 0h1m36 0h1m-384 1h2m1 0h2m-1 0h1m10 0h2m6 0h2m22 0h2m13 0h2m2 0h2m0 0h2m7 0h1m11 0h2m15 0h2m8 0h1m7 0h1m9 0h2m123 0h1m1 0h2m2 0h2m12 0h2m0 0h1m15 0h2m2 0h1m5 0h1m6 0h2m0 0h2m2 0h2m-1 0h2m-1 0h1m-1 0h2m-1 0h1m0 0h1m0 0h2m4 0h2m0 0h2m1 0h2m3 0h1m10 0h2m45 0h1m0 0h1m-398 1h2m1 0h1m14 0h2m2 0h2m17 0h1m18 0h2m1 0h2m0 0h1m9 0h2m63 0h1m6 0h1m110 0h2m-1 0h2m3 0h1m0 0h2m3 0h2m1 0h2m-1 0h1m13 0h2m-1 0h1m4 0h2m2 0h2m0 0h1m17 0h2m0 0h2m1 0h2m-1 0h1m1 0h2m-1 0h1m0 0h1m2 0h1m9 0h2m-2 0h1m44 0h2m-391 1h2m1 0h2m3 0h1m7 0h1m10 0h2m8 0h2m6 0h2m11 0h2m4 0h2m-1 0h2m-1 0h2m-1 0h2m-1 0h2m7 0h1m29 0h2m151 0h2m2 0h1m3 0h2m1 0h2m-1 0h2m3 0h2m4 0h2m-1 0h2m2 0h1m18 0h1m5 0h2m7 0h1m-1 0h2m-1 0h2m-1 0h1m0 0h2m-2 0h1m0 0h1m-1 0h2m63 0h1m5 0h1m0 0h1m-398 1h2m-1 0h1m0 0h1m0 0h2m1 0h2m28 0h2m14 0h2m-2 0h1m9 0h2m2 0h2m-1 0h1m29 0h2m14 0h2m6 0h2m27 0h2m80 0h1m23 0h2m0 0h2m0 0h1m2 0h1m2 0h1m6 0h2m10 0h2m-1 0h1m1 0h1m1 0h1m0 0h2m9 0h2m6 0h2m1 0h1m4 0h2m1 0h2m-1 0h2m-1 0h2m0 0h2m4 0h1m-1 0h2m0 0h1m0 0h2m28 0h2m-367 1h2m-1 0h2m-1 0h2m-2 0h1m3 0h1m13 0h2m2 0h2m2 0h1m0 0h1m27 0h1m3 0h2m1 0h1m0 0h2m-1 0h2m-2 0h1m2 0h1m9 0h2m8 0h2m17 0h2m12 0h2m8 0h1m8 0h1m36 0h2m90 0h1m1 0h2m6 0h2m-2 0h1m6 0h2m-1 0h2m2 0h2m-2 0h1m0 0h2m0 0h2m3 0h1m6 0h1m0 0h2m0 0h1m11 0h2m-1 0h2m1 0h2m2 0h2m26 0h2m-359 1h1m0 0h2m0 0h2m0 0h2m7 0h2m2 0h2m10 0h2m2 0h1m13 0h2m8 0h2m2 0h2m-1 0h2m0 0h2m-1 0h1m1 0h2m18 0h2m-1 0h2m26 0h1m139 0h2m2 0h2m5 0h2m-2 0h1m2 0h2m2 0h2m2 0h2m3 0h2m3 0h2m-2 0h1m0 0h1m2 0h1m7 0h2m10 0h1m6 0h2m-1 0h1m-1 0h2m-1 0h1m-1 0h2m-1 0h2m-325 1h2m13 0h2m3 0h1m4 0h2m11 0h1m0 0h2m21 0h1m1 0h1m2 0h2m-2 0h1m4 0h2m3 0h2m-1 0h1m11 0h2m28 0h2m4 0h2m12 0h1m1 0h2m6 0h2m1 0h2m116 0h2m0 0h2m4 0h1m2 0h1m9 0h1m-1 0h2m1 0h1m14 0h2m-1 0h2m1 0h2m6 0h2m0 0h2m-1 0h1m0 0h2m10 0h1m42 0h2m-380 1h2m18 0h2m19 0h2m17 0h2m0 0h1m1 0h1m0 0h1m7 0h2m8 0h2m2 0h1m2 0h2m30 0h2m134 0h1m5 0h2m1 0h2m8 0h1m2 0h2m0 0h2m0 0h1m2 0h2m7 0h2m0 0h1m1 0h2m-1 0h2m-1 0h2m9 0h1m4 0h2m-1 0h2m45 0h1m-369 1h1m4 0h1m5 0h2m22 0h1m5 0h1m11 0h2m5 0h2m1 0h1m0 0h2m0 0h1m41 0h2m14 0h1m2 0h2m11 0h2m1 0h2m7 0h1m106 0h2m-2 0h1m10 0h1m0 0h1m1 0h2m1 0h2m-1 0h2m3 0h2m10 0h1m3 0h2m3 0h1m12 0h1m8 0h1m1 0h1m11 0h2m3 0h1m-340 1h1m1 0h1m11 0h2m36 0h1m5 0h1m1 0h2m3 0h2m2 0h1m17 0h2m63 0h2m99 0h2m-1 0h2m4 0h1m1 0h1m8 0h1m1 0h2m11 0h1m2 0h1m0 0h2m18 0h1m1 0h2m-1 0h1m8 0h1m-325 1h2m-2 0h1m20 0h2m14 0h2m19 0h2m0 0h1m0 0h2m-1 0h2m8 0h2m183 0h2m1 0h1m2 0h2m1 0h1m18 0h2m1 0h2m6 0h2m16 0h2m66 0h1m-387 1h1m0 0h1m1 0h2m-1 0h1m-1 0h2m9 0h1m28 0h1m17 0h1m0 0h2m1 0h2m0 0h1m202 0h1m6 0h2m1 0h2m-1 0h2m8 0h2m1 0h2m0 0h2m0 0h2m14 0h2m5 0h2m68 0h2m-388 1h2m7 0h2m5 0h1m1 0h2m31 0h1m5 0h2m-1 0h2m1 0h1m50 0h1m23 0h1m112 0h1m0 0h2m1 0h2m6 0h1m4 0h2m9 0h2m-1 0h1m0 0h2m0 0h1m3 0h2m1 0h1m0 0h2m1 0h2m21 0h2m-1 0h1m2 0h1m-320 1h2m56 0h2m1 0h2m3 0h1m8 0h1m3 0h2m12 0h2m43 0h1m113 0h2m1 0h2m-1 0h2m10 0h1m-1 0h2m3 0h2m12 0h1m4 0h2m0 0h2m10 0h1m0 0h2m4 0h2m0 0h1m1 0h1m-319 1h1m69 0h2m72 0h2m-1 0h1m108 0h2m2 0h1m0 0h1m4 0h2m5 0h1m7 0h1m3 0h1m9 0h1m7 0h2m6 0h2m-51 1h1m3 0h2m7 0h1m5 0h2m8 0h1m7 0h2m2 0h2m6 0h2m5 0h2m-68 1h2m4 0h2m4 0h1m14 0h1m2 0h1m13 0h2m11 0h2" stroke="#111" stroke-width="2" fill="none" shape-rendering="crispEdges"/>
<path d="M184.6 37.3 L431.3 36.6 L431.5 191 L184.3 191.5 Z M436.6 35.8 L682.2 33.2 L683 187.8 L438.2 190.3 Z M184.8 212.8 L431.8 211.5 L432.6 366.2 L185.4 367.9 Z M437.9 210.8 L682.9 208.9 L684.3 363.9 L438.8 366 Z M185.9 388.6 L432.9 387 L434.4 541.7 L186.7 543.3 Z M438.6 387 L684.5 385.3 L685.6 540 L439.6 541.5 Z M189.1 640.8 L433.7 640.9 L434.1 815.4 L189.5 815.4 Z M445.6 640.9 L686.5 640.6 L686.7 815.2 L445.9 814.9 Z" stroke="#1a1a1a" stroke-width="1.3" fill="none" stroke-linejoin="miter"/>
<defs><clipPath id="ca"><rect x="180" y="37.2" width="260" height="160"/></clipPath><clipPath id="cb"><rect x="180" y="212.6" width="260" height="160"/></clipPath></defs>
<path d="M185.5 191.2 C185.6 191.1 185.9 191.0 186.3 190.6 C186.7 190.2 187.1 188.9 187.8 188.6 C188.5 188.2 189.5 188.3 190.4 188.5 C191.3 188.7 192.3 189.3 193.5 189.6 C194.7 189.9 194.8 190.3 197.7 190.5 C200.6 190.7 204.2 190.8 211 190.8 C217.8 190.8 233.1 190.6 238.3 190.3 C243.5 190.0 241.4 190.0 242.4 189.2 C243.4 188.4 244.0 187.9 244.5 185.6 C245.0 183.3 245.2 179.5 245.5 175.2 C245.8 170.9 246.1 171.6 246.4 160 C246.7 148.4 247.1 126.0 247.4 105.6 C247.7 85.2 248.0 48.9 248.3 37.6 C248.7 26.3 249.2 26.3 249.5 37.6 C249.8 48.9 250.1 88.5 250.4 105.6 C250.7 122.7 251.0 130.6 251.3 140 C251.6 149.4 251.9 157.8 252.3 162.2 C252.7 166.6 253.1 164.8 253.5 166.7 C253.9 168.6 254.1 172.0 254.7 173.7 C255.3 175.4 256.2 175.8 257 176.7 C257.8 177.5 258.7 178.3 259.5 178.8 C260.3 179.3 261.0 179.2 261.7 179.6 C262.4 180.0 262.9 181.1 263.5 181.5 C264.1 181.9 264.5 182.0 265.2 182.2 C265.9 182.4 266.9 182.6 267.5 182.8 C268.1 183.0 268.4 183.5 269 183.6 C269.6 183.7 270.3 183.1 271 183.3 C271.7 183.5 272.3 184.4 273 184.6 C273.7 184.8 274.4 184.2 275 184.3 C275.6 184.4 276.2 185.2 276.9 185.4 C277.6 185.6 278.2 185.4 279 185.6 C279.8 185.8 280.8 186.3 281.6 186.4 C282.4 186.5 283.1 186.1 284 186.2 C284.9 186.3 285.8 186.7 287 186.8 C288.2 186.9 289.8 186.7 291 186.6 C292.2 186.5 293.0 186.3 294 186.2 C295.0 186.1 295.9 186.0 296.8 186 C297.7 186.0 298.5 186.5 299.5 186.4 C300.5 186.3 301.7 185.6 302.7 185.6 C303.7 185.6 304.5 186.2 305.5 186.2 C306.5 186.2 307.6 186.1 308.5 185.7 C309.4 185.3 310.1 185.5 310.9 183.7 C311.7 181.9 312.4 176.8 313.2 174.9 C314.0 173.1 314.8 172.7 315.5 172.6 C316.2 172.5 317.0 172.8 317.6 174.3 C318.2 175.9 318.6 179.6 319.1 181.9 C319.6 184.2 320.0 186.9 320.8 188.4 C321.6 189.9 320.5 190.2 323.7 190.7 C326.9 191.2 337.3 191.1 340 191.2" stroke="#111" stroke-width="1.5" fill="none" stroke-linejoin="round" clip-path="url(#ca)"/>
<path d="M186.5 367.5 C186.7 367.3 187.5 366.9 187.9 366.3 C188.3 365.7 188.1 364.0 188.7 363.6 C189.3 363.2 190.1 363.8 191.4 364.2 C192.7 364.6 193.3 365.9 196.6 366.3 C199.9 366.8 204.2 366.8 211.2 366.9 C218.1 367.0 233.3 367.2 238.3 366.9 C243.3 366.6 240.5 366.5 241.4 365.2 C242.3 363.9 242.9 363.2 243.5 359 C244.1 354.8 244.5 350.3 244.9 340.2 C245.3 330.1 245.8 312.5 246.2 298.6 C246.6 284.7 246.9 269.1 247.2 257 C247.5 244.9 247.9 233.1 248.2 225.8 C248.5 218.5 248.7 215.4 248.9 213.3 C249.2 211.2 249.5 209.5 249.7 213.3 C249.9 217.1 250.0 223.7 250.3 236.2 C250.6 248.7 251.1 274.3 251.4 288.2 C251.8 302.1 252.0 310.7 252.4 319.4 C252.8 328.1 253.3 335.3 253.9 340.2 C254.5 345.1 255.4 346.9 255.9 348.6 C256.4 350.3 256.6 349.7 257 350.2 C257.4 350.7 257.8 351.8 258.2 351.8 C258.6 351.8 258.9 350.2 259.2 350.4 C259.5 350.5 259.8 352.6 260.1 352.7 C260.4 352.8 260.9 350.7 261.2 351 C261.5 351.3 261.9 354.3 262.2 354.5 C262.5 354.7 262.8 352.1 263.2 352.2 C263.6 352.3 263.9 354.9 264.3 355.2 C264.7 355.5 264.9 353.7 265.3 353.8 C265.7 353.9 266.1 355.8 266.5 356 C266.9 356.2 267.1 354.8 267.6 355 C268.1 355.2 268.9 357.1 269.5 357.3 C270.1 357.6 270.4 356.3 271 356.5 C271.6 356.7 272.2 358.1 273 358.6 C273.8 359.1 274.9 359.3 275.7 359.4 C276.5 359.5 277.3 359.0 278 359.2 C278.7 359.4 279.0 360.2 280 360.4 C281.0 360.6 281.6 360.6 284 360.6 C286.4 360.6 291.3 360.7 294.4 360.6 C297.5 360.5 300.7 360.3 302.8 360 C304.9 359.7 305.5 360.4 306.9 359 C308.3 357.6 309.7 353.7 311.1 351.7 C312.5 349.7 314.2 347.3 315.2 347.1 C316.2 346.9 316.5 348.6 317.3 350.7 C318.1 352.8 318.8 357.5 319.8 360 C320.9 362.5 322.3 364.6 323.6 365.6 C324.9 366.7 325.0 366.2 327.7 366.3 C330.4 366.4 337.9 366.3 340 366.3" stroke="#111" stroke-width="1.5" fill="none" stroke-linejoin="round" clip-path="url(#cb)"/>
<path d="M437.8 188.6 L439.6 180.3 L441.4 182.2 L443.2 179.4 L446 180.3 L448.8 176.7 L450.6 173 L451.5 177.6 L453.3 172.1 L455.2 171.2 L457.9 169.3 L459.8 165.7 L461.6 169.3 L462.5 166.6 L463.4 172.1 L464.3 160.2 L467.1 159.2 L468.9 154.7 L470.8 143.7 L472.6 149.2 L475.3 148.2 L477.2 132.7 L478.4 121.7 L479.9 123.5 L480.8 135.4 L482.3 123.5 L483.6 119.8 L484.9 107 L486.3 118 L488.2 97.8 L489.1 108.8 L490 86.8 L491.8 90.5 L493.7 60.2 L494.6 90.5 L495.5 103.3 L496.4 66.7 L498.2 79.5 L500.1 46.5 L501.6 59.3 L502.8 79.5 L504.3 36.4 L505.6 56.6 L506.9 50.2 L508.3 55.7 L510.2 68.5 L512 62.1 L513.8 75.8 L515.1 70.3 L516.2 85 L517.1 74 L518.4 77.7 L519.7 85 L521.2 116.2 L523 99.7 L525.8 116.2 L528.5 125.3 L530.3 132.7 L533.1 141.8 L534 152.8 L535.8 147.3 L537.7 149.2 L539.5 162 L540 161.5 L543.9 163.4 L545.9 169.3 L547.8 176.1 L550.7 174.1 L552.7 178 L555.6 179 L559.5 180 L563.4 179 L566.3 175.1 L567.3 181 L570.2 178 L572.2 182.9 L574.1 180 L577.1 181 L580 179 L581 183.9 L583.9 179 L585.8 181 L587.8 174.7 L590.7 181 L594.6 181.9 L598.5 182.5 L602.4 181 L604.4 183.9 L608.3 183.3 L613.1 181.9 L615.1 184.5 L618 185.3 L621.9 184.9 L625.8 186.8 L629.7 185.8 L633.6 186.4 L636.6 182.9 L638.5 186.4 L640.5 183.3 L642.4 185.8 L646.3 185.8 L648.3 187.8 L653.1 188 M440.7 540.6 L443.5 533.9 L445.4 538.7 L448.2 527.3 L450.1 529.2 L451.6 533.9 L453.9 526.4 L455.8 525.4 L457.7 519.8 L459.6 522.6 L460.5 520.7 L463.3 525.4 L465.2 522.6 L468.1 508.4 L470.9 509.4 L473.7 513.2 L475.2 491.4 L476.2 510.3 L477.5 497.1 L478.4 474.4 L480 502.8 L481.3 489.6 L482.2 500.9 L483.7 482 L485.1 482.9 L486.4 478.2 L487.9 476.3 L488.8 465 L490.2 445.2 L491.3 476.3 L492 449.9 L493.6 446.1 L495.8 440.4 L497.9 431 L498.7 423.4 L500.2 431 L502.1 399.8 L503.4 398.9 L504.9 403.6 L505.8 388.5 L506.8 404.6 L508.7 405.5 L510.2 395.1 L511.1 404.6 L512.1 393.2 L513 404.6 L514 387.6 L514.9 397 L515.8 387.6 L516.6 412.1 L518.1 417.8 L519.1 419.7 L520 422.5 L520.9 417.8 L521.9 438.6 L523.4 427.2 L524.7 434.8 L525.7 423.4 L527.2 438.6 L529.4 476.3 L530.8 457.4 L532.3 470.7 L534.2 480.1 L536.1 470.7 L537.9 491.4 L539.8 487.7 L541.2 502.8 L543.6 512.2 L545.5 508.4 L547.4 504.7 L549.8 522.6 L551.2 514.1 L553.1 515.1 L554.6 517.9 L556.4 526.4 L558.7 539.2 L560 524.6 L560.9 539.2 L561.8 532.8 L566.4 530.1 L567.7 520.9 L568.6 533.7 L571.8 532.8 L575.5 531.9 L577.3 530.1 L579.1 535.5 L581.9 525.5 L584.6 533.7 L586.4 537.3 L588.2 539.2 L590.1 528.2 L593.7 528.2 L596.4 533.7 L598.2 539.2 L599.5 531.9 L601.9 537.3 L604.6 534.6 L610.1 534.6 L613.7 533.7 L615.5 531 L617.4 535.5 L620.1 539.2 L621.9 531.9 L624.6 534.6 L627.4 534.6 L630.1 538.2 L632.8 539.2 L635.6 536.4 L639.2 533.7 L641.9 536.4 L643.8 531.9 L646.5 537.3 L649.2 539.2 L652 539.2 L653.8 538.2 L657.4 538.8 L659.2 538.2 L661.4 540.1" stroke="#111" stroke-width="1.4" fill="none" stroke-linejoin="round"/>
<path d="M191.6 781 L264.6 749.4 L433.5 726.2 M446.2 780 L465 772.1 L519.6 750.3 L524.3 749.5 L560 744.8 L686.5 727.7" stroke="#000" stroke-width="1.8" fill="none"/>
<path d="M293.3 554.6 L315.1 554.6 L314.1 551.2 L335.2 556.4 L314.1 561.6 L315.1 558.2 L293.3 558.2 Z M539.5 553.1 L561.2 553.1 L560.2 549.4 L581.6 554.9 L560.2 560.4 L561.2 556.7 L539.5 556.7 Z M422.7 830.6 L445.1 830.6 L444.1 827.2 L463.2 832.4 L444.1 837.6 L445.1 834.2 L422.7 834.2 Z M699.95 304.5 L699.95 282 L696.4 283 L701.8 263.5 L707.2 283 L703.65 282 L703.65 304.5 Z M698.5 723 L698.5 700 L695.4 701 L700.6 681.5 L705.8 701 L702.7 700 L702.7 723 Z" fill="#111"/>
<text font-size="26.2" transform="translate(60.3 24.3) scale(1 1.03)">Excitation</text>
<text font-size="60" transform="translate(2.3 134) scale(0.93 1)">a</text>
<text font-size="26.5" text-anchor="end" transform="translate(169 112.9) scale(1 1.03)">365 nm</text>
<text font-size="26.5" text-anchor="end" transform="translate(169 141.9) scale(1 1.03)">+488 nm</text>
<text font-size="59" transform="translate(2.6 315.6) scale(1.03 1)">b</text>
<text font-size="26.5" text-anchor="middle" transform="translate(117.4 290.1) scale(1 1.03)">365 nm</text>
<text font-size="26.5" text-anchor="middle" transform="translate(117.9 319.8) scale(1 1.03)">only</text>
<text font-size="58" transform="translate(6.2 487) scale(1.07 1)">c</text>
<text font-size="26.5" text-anchor="middle" transform="translate(119.3 467.8) scale(1 1.03)">488 nm</text>
<text font-size="26.5" text-anchor="middle" transform="translate(119.5 496.2) scale(1 1.03)">only</text>
<text font-size="59" transform="translate(6.6 734.6) scale(1.04 1)">d</text>
<text font-size="26.5" text-anchor="end" transform="translate(170.5 715.7) scale(1 1.03)">365 nm</text>
<text font-size="26.5" text-anchor="end" transform="translate(170.5 745.4) scale(1 1.03)">+488 nm</text>
<text font-size="26.3" transform="translate(209 588.3) scale(1 1.03)">Blue fluorescence</text>
<text x="447.5" y="585.8" font-size="26.5" transform="rotate(-0.5 560 585)">Green fluorescence</text>
<text font-size="26.5" transform="translate(709.5 452.5) rotate(-90) scale(1 1.03)">Cell number</text>
<text font-size="26.2" transform="translate(731 807) rotate(-90) scale(1 1.03)">FITC fluorescence</text>
<text font-size="26.5" transform="translate(760.4 819.5) rotate(-90) scale(1 1.03)">(DNA strand breaks)</text>
<text font-size="26.5" transform="translate(336.5 669.1) scale(1 1.03)">47.0%</text>
<text font-size="26.5" transform="translate(586.9 669.1) scale(1 1.03)">0.8%</text>
<text font-size="33.2" font-weight="bold" transform="translate(601.0 800.3) scale(1 1.03)" style="stroke-width:0.4px">-TDT</text>
<text font-size="26.1" transform="translate(328 860.5) scale(1 1.03)">DAPI fluorescence</text>
<text font-size="26.2" transform="translate(306.5 889.6) scale(1 1.03)">(nuclear DNA content)</text>
</svg>
</body></html>
